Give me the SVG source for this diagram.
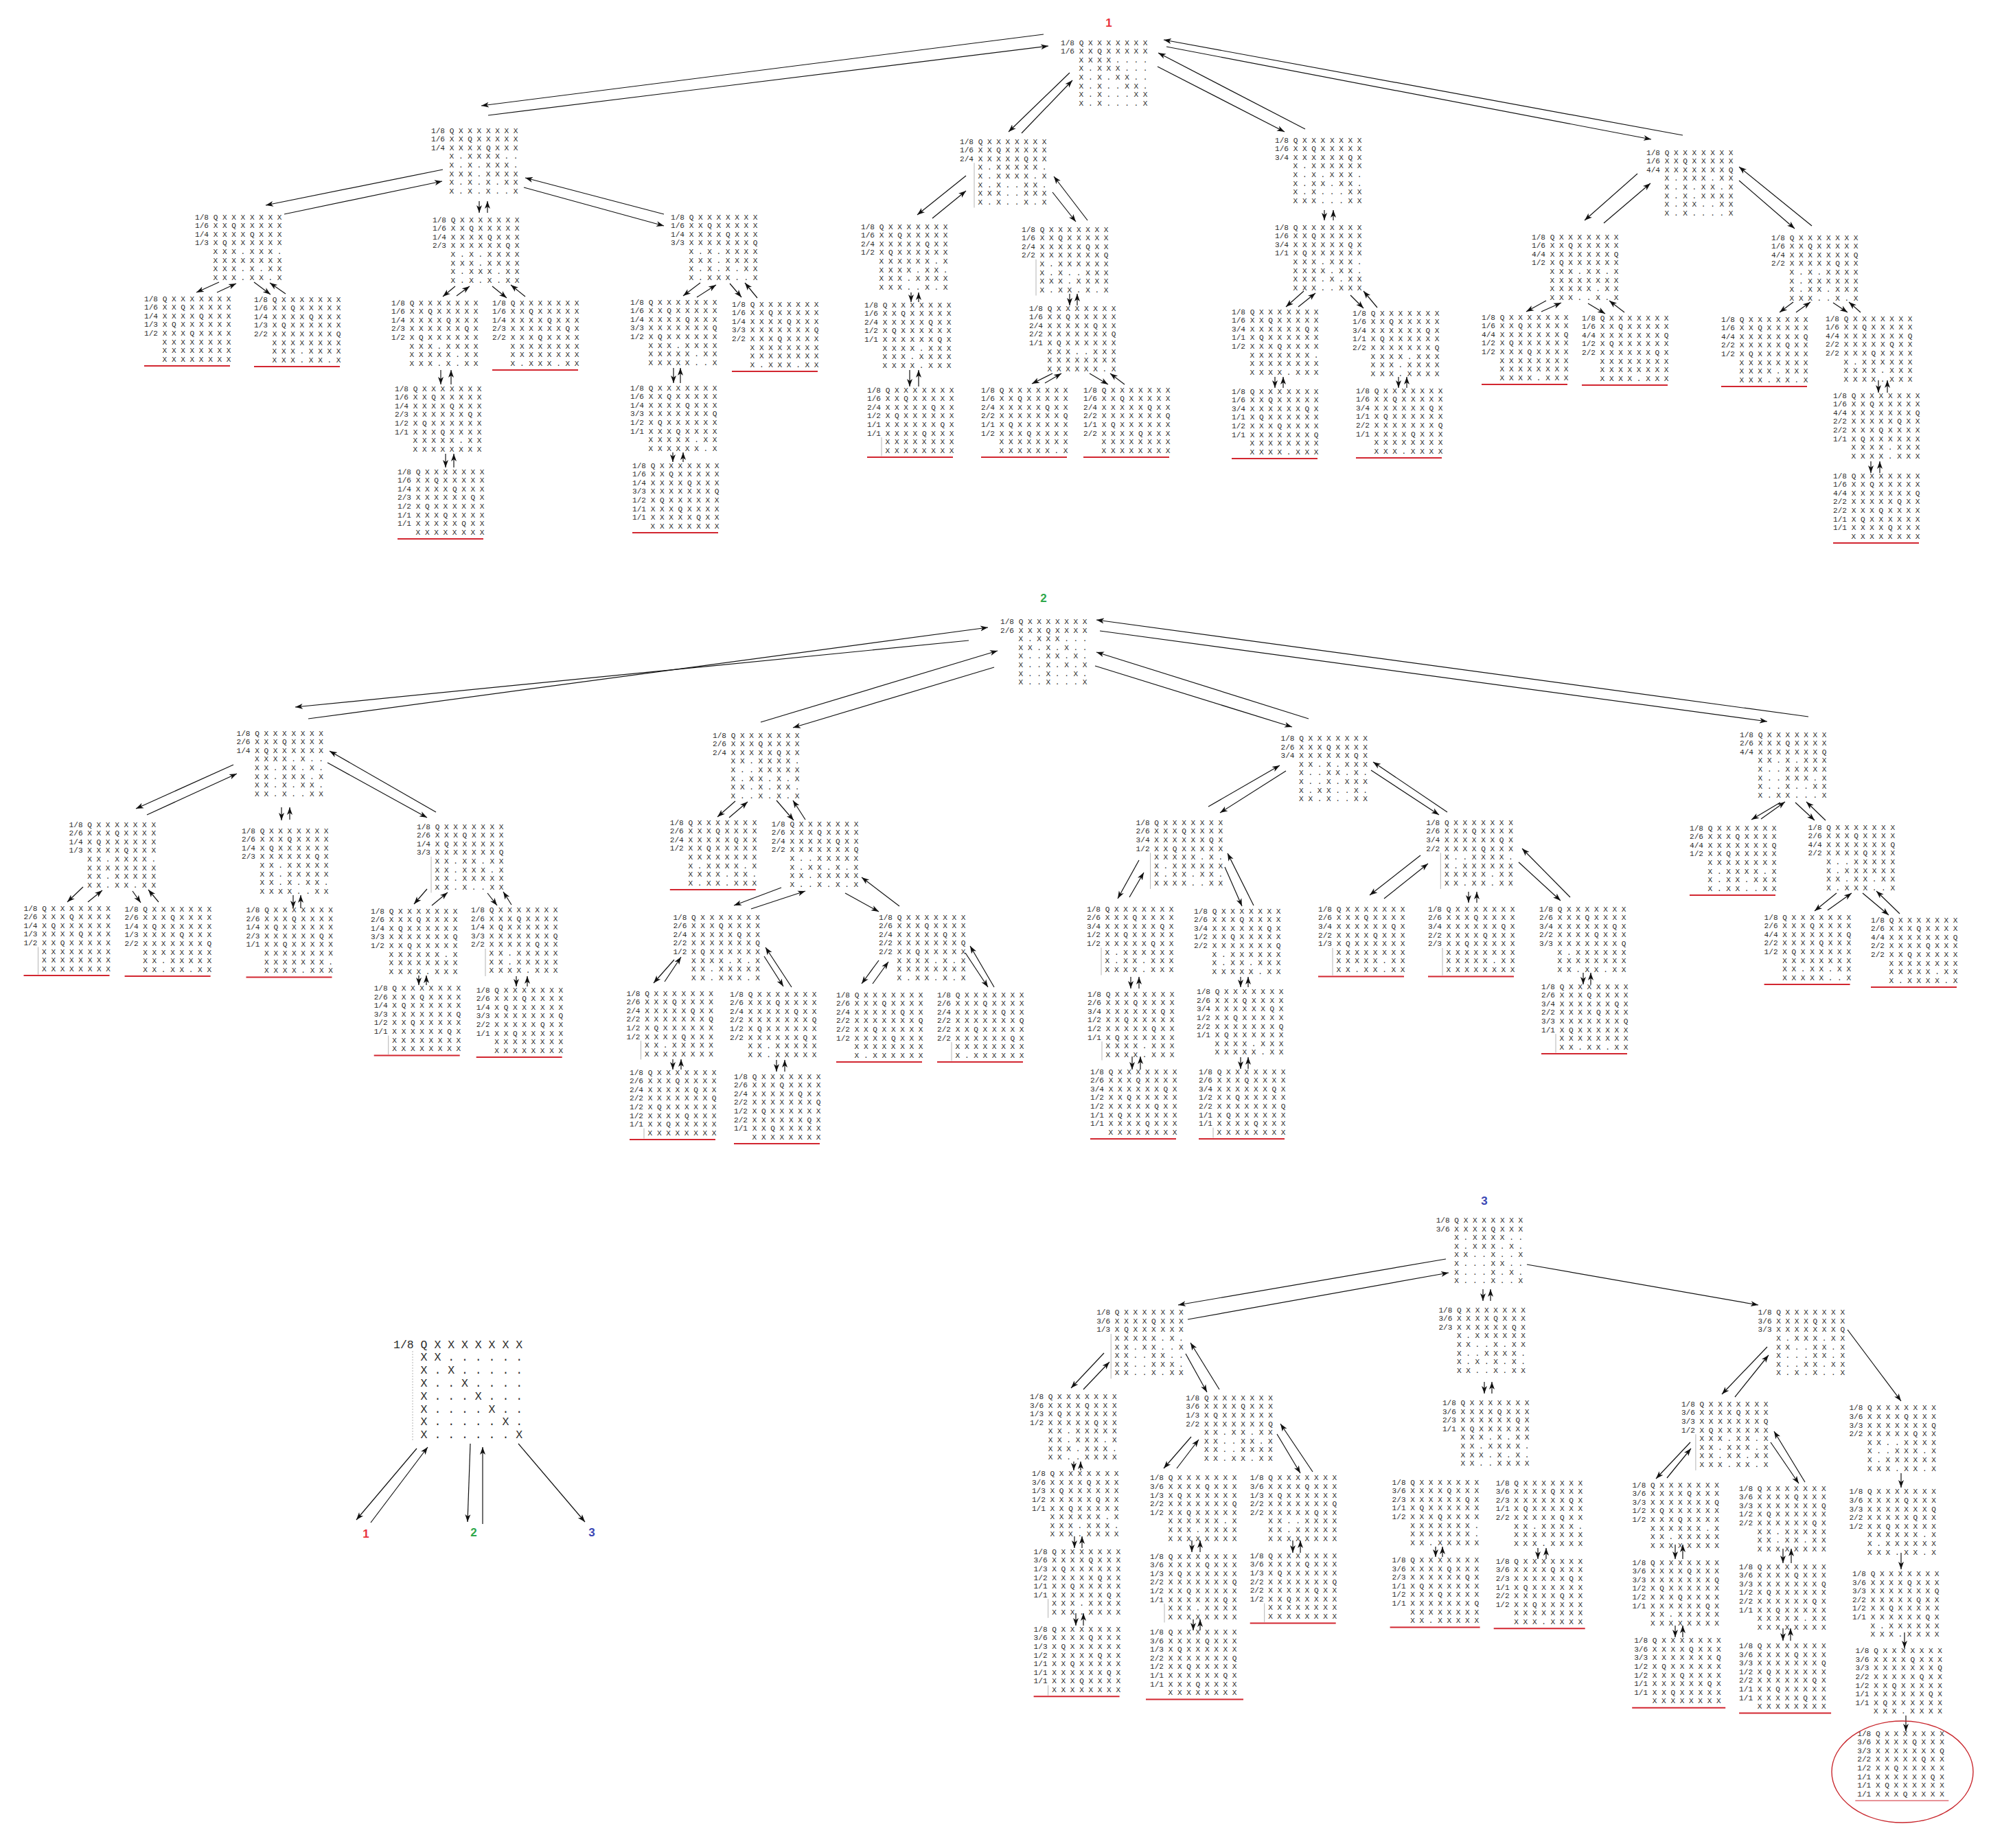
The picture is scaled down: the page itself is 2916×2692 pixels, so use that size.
<svg xmlns="http://www.w3.org/2000/svg" width="2916" height="2692" viewBox="0 0 2916 2692">
<style>
.n text{font-family:"Liberation Mono","DejaVu Sans Mono",monospace;font-size:11.1px;fill:#2b2b2b}
.n text.big{font-size:16.5px}
.u{stroke:#d22630;stroke-width:2}
.vl{stroke:#b4b4b4;stroke-width:1}
#connectors line{stroke:#111;stroke-width:1.2;marker-end:url(#ah)}
.lb{font-family:"Liberation Sans",Arial,sans-serif;font-weight:bold;font-size:17px;text-anchor:middle}
</style>
<defs>
<marker id="ah" markerWidth="12" markerHeight="10" refX="11" refY="5" orient="auto" markerUnits="userSpaceOnUse"><path d="M0,1 L11,5 L0,9 L3,5 Z" fill="#111"/></marker>
</defs>
<rect width="2916" height="2692" fill="#fff"/>
<g id="labels">
<text class="lb" x="1615" y="39" fill="#e8323c">1</text>
<text class="lb" x="1520" y="877" fill="#2ea84a">2</text>
<text class="lb" x="2162" y="1755" fill="#3a46b4">3</text>
<text class="lb" x="533" y="2240" fill="#e8323c">1</text>
<text class="lb" x="690" y="2238" fill="#2ea84a">2</text>
<text class="lb" x="862" y="2238" fill="#3a46b4">3</text>
</g>
<g id="connectors">
<line x1="1520" y1="50" x2="701" y2="154"/><line x1="711" y1="168" x2="1527" y2="67"/>
<line x1="1558" y1="106" x2="1469" y2="192"/><line x1="1488" y1="194" x2="1562" y2="117"/>
<line x1="1686" y1="97" x2="1871" y2="192"/><line x1="1901" y1="188" x2="1687" y2="77"/>
<line x1="1699" y1="68" x2="2405" y2="203"/><line x1="2451" y1="197" x2="1695" y2="58"/>
<line x1="645" y1="247" x2="387" y2="299"/><line x1="414" y1="312" x2="644" y2="264"/>
<line x1="698" y1="293" x2="698" y2="310"/><line x1="710" y1="310" x2="710" y2="293"/>
<line x1="763" y1="273" x2="967" y2="329"/><line x1="967" y1="312" x2="765" y2="259"/>
<line x1="319" y1="411" x2="286" y2="426"/><line x1="316" y1="426" x2="344" y2="413"/>
<line x1="370" y1="411" x2="394" y2="429"/><line x1="416" y1="428" x2="393" y2="412"/>
<line x1="663" y1="417" x2="645" y2="432"/><line x1="665" y1="431" x2="684" y2="417"/>
<line x1="717" y1="417" x2="738" y2="434"/><line x1="765" y1="432" x2="744" y2="415"/>
<line x1="642" y1="539" x2="642" y2="560"/><line x1="657" y1="560" x2="657" y2="539"/>
<line x1="649" y1="661" x2="649" y2="681"/><line x1="661" y1="681" x2="661" y2="661"/>
<line x1="1020" y1="412" x2="995" y2="431"/><line x1="1015" y1="433" x2="1043" y2="415"/>
<line x1="1063" y1="413" x2="1080" y2="433"/><line x1="1103" y1="434" x2="1085" y2="412"/>
<line x1="981" y1="536" x2="981" y2="558"/><line x1="991" y1="558" x2="991" y2="536"/>
<line x1="980" y1="659" x2="980" y2="673"/><line x1="995" y1="673" x2="995" y2="659"/>
<line x1="1407" y1="256" x2="1336" y2="313"/><line x1="1358" y1="318" x2="1407" y2="278"/>
<line x1="1533" y1="280" x2="1567" y2="323"/><line x1="1584" y1="321" x2="1535" y2="257"/>
<line x1="1327" y1="426" x2="1327" y2="440"/><line x1="1338" y1="440" x2="1338" y2="426"/>
<line x1="1325" y1="539" x2="1325" y2="563"/><line x1="1338" y1="563" x2="1338" y2="539"/>
<line x1="1558" y1="428" x2="1558" y2="445"/><line x1="1569" y1="445" x2="1569" y2="428"/>
<line x1="1533" y1="544" x2="1503" y2="559"/><line x1="1522" y1="558" x2="1546" y2="544"/>
<line x1="1587" y1="544" x2="1614" y2="560"/><line x1="1638" y1="560" x2="1617" y2="544"/>
<line x1="1929" y1="306" x2="1929" y2="321"/><line x1="1942" y1="321" x2="1942" y2="306"/>
<line x1="1899" y1="424" x2="1873" y2="447"/><line x1="1891" y1="447" x2="1916" y2="427"/>
<line x1="1967" y1="430" x2="1986" y2="449"/><line x1="2006" y1="448" x2="1986" y2="424"/>
<line x1="1857" y1="549" x2="1857" y2="565"/><line x1="1869" y1="565" x2="1869" y2="549"/>
<line x1="2037" y1="549" x2="2037" y2="565"/><line x1="2049" y1="565" x2="2049" y2="549"/>
<line x1="2385" y1="253" x2="2308" y2="321"/><line x1="2336" y1="325" x2="2404" y2="267"/>
<line x1="2533" y1="263" x2="2614" y2="333"/><line x1="2639" y1="329" x2="2533" y2="243"/>
<line x1="2252" y1="438" x2="2223" y2="454"/><line x1="2245" y1="454" x2="2274" y2="441"/>
<line x1="2313" y1="442" x2="2338" y2="457"/><line x1="2366" y1="455" x2="2344" y2="438"/>
<line x1="2612" y1="440" x2="2592" y2="455"/><line x1="2616" y1="455" x2="2637" y2="440"/>
<line x1="2670" y1="441" x2="2691" y2="455"/><line x1="2710" y1="455" x2="2693" y2="440"/>
<line x1="2736" y1="554" x2="2736" y2="572"/><line x1="2749" y1="572" x2="2749" y2="554"/>
<line x1="2725" y1="672" x2="2725" y2="689"/><line x1="2738" y1="689" x2="2738" y2="672"/>
<line x1="1411" y1="933" x2="430" y2="1030"/><line x1="449" y1="1047" x2="1439" y2="914"/>
<line x1="1448" y1="972" x2="1155" y2="1060"/><line x1="1108" y1="1052" x2="1453" y2="948"/>
<line x1="1595" y1="970" x2="1882" y2="1059"/><line x1="1906" y1="1047" x2="1597" y2="950"/>
<line x1="1602" y1="919" x2="2574" y2="1051"/><line x1="2634" y1="1044" x2="1597" y2="903"/>
<line x1="340" y1="1114" x2="198" y2="1178"/><line x1="214" y1="1187" x2="345" y2="1127"/>
<line x1="410" y1="1176" x2="410" y2="1195"/><line x1="422" y1="1194" x2="422" y2="1176"/>
<line x1="477" y1="1111" x2="622" y2="1191"/><line x1="635" y1="1183" x2="480" y2="1094"/>
<line x1="121" y1="1292" x2="98" y2="1314"/><line x1="128" y1="1314" x2="149" y2="1297"/>
<line x1="193" y1="1298" x2="205" y2="1315"/><line x1="231" y1="1314" x2="216" y2="1296"/>
<line x1="427" y1="1304" x2="427" y2="1323"/><line x1="438" y1="1323" x2="438" y2="1304"/>
<line x1="622" y1="1295" x2="603" y2="1317"/><line x1="629" y1="1319" x2="652" y2="1300"/>
<line x1="710" y1="1301" x2="724" y2="1319"/><line x1="745" y1="1318" x2="733" y2="1299"/>
<line x1="610" y1="1421" x2="610" y2="1435"/><line x1="621" y1="1435" x2="621" y2="1421"/>
<line x1="752" y1="1422" x2="752" y2="1437"/><line x1="768" y1="1437" x2="768" y2="1422"/>
<line x1="1071" y1="1167" x2="1045" y2="1190"/><line x1="1062" y1="1191" x2="1089" y2="1168"/>
<line x1="1131" y1="1166" x2="1156" y2="1195"/><line x1="1173" y1="1194" x2="1155" y2="1166"/>
<line x1="1138" y1="1293" x2="1069" y2="1319"/><line x1="1094" y1="1324" x2="1173" y2="1298"/>
<line x1="1231" y1="1301" x2="1280" y2="1328"/><line x1="1310" y1="1320" x2="1255" y2="1278"/>
<line x1="982" y1="1398" x2="952" y2="1432"/><line x1="968" y1="1430" x2="992" y2="1394"/>
<line x1="1113" y1="1393" x2="1141" y2="1437"/><line x1="1153" y1="1438" x2="1115" y2="1380"/>
<line x1="1280" y1="1399" x2="1255" y2="1433"/><line x1="1271" y1="1433" x2="1294" y2="1401"/>
<line x1="1406" y1="1388" x2="1439" y2="1438"/><line x1="1448" y1="1438" x2="1413" y2="1378"/>
<line x1="980" y1="1543" x2="980" y2="1558"/><line x1="992" y1="1558" x2="992" y2="1543"/>
<line x1="1131" y1="1544" x2="1131" y2="1561"/><line x1="1143" y1="1561" x2="1143" y2="1544"/>
<line x1="1873" y1="1123" x2="1777" y2="1184"/><line x1="1760" y1="1175" x2="1864" y2="1115"/>
<line x1="1997" y1="1122" x2="2096" y2="1187"/><line x1="2108" y1="1183" x2="2000" y2="1110"/>
<line x1="1659" y1="1253" x2="1628" y2="1309"/><line x1="1645" y1="1307" x2="1666" y2="1271"/>
<line x1="1784" y1="1263" x2="1809" y2="1320"/><line x1="1826" y1="1319" x2="1788" y2="1243"/>
<line x1="1647" y1="1423" x2="1647" y2="1440"/><line x1="1659" y1="1440" x2="1659" y2="1423"/>
<line x1="1807" y1="1423" x2="1807" y2="1438"/><line x1="1818" y1="1438" x2="1818" y2="1423"/>
<line x1="1649" y1="1539" x2="1649" y2="1558"/><line x1="1661" y1="1558" x2="1661" y2="1539"/>
<line x1="1807" y1="1540" x2="1807" y2="1557"/><line x1="1818" y1="1557" x2="1818" y2="1540"/>
<line x1="2069" y1="1246" x2="1995" y2="1304"/><line x1="2016" y1="1309" x2="2080" y2="1258"/>
<line x1="2139" y1="1299" x2="2139" y2="1315"/><line x1="2151" y1="1315" x2="2151" y2="1299"/>
<line x1="2212" y1="1256" x2="2273" y2="1312"/><line x1="2287" y1="1307" x2="2217" y2="1236"/>
<line x1="2306" y1="1417" x2="2306" y2="1434"/><line x1="2317" y1="1434" x2="2317" y2="1417"/>
<line x1="2593" y1="1169" x2="2551" y2="1194"/><line x1="2565" y1="1193" x2="2600" y2="1168"/>
<line x1="2615" y1="1169" x2="2643" y2="1195"/><line x1="2659" y1="1195" x2="2631" y2="1168"/>
<line x1="2675" y1="1301" x2="2643" y2="1327"/><line x1="2662" y1="1326" x2="2697" y2="1301"/>
<line x1="2713" y1="1301" x2="2751" y2="1333"/><line x1="2767" y1="1331" x2="2733" y2="1298"/>
<line x1="2106" y1="1834" x2="1716" y2="1901"/><line x1="1730" y1="1922" x2="2110" y2="1854"/>
<line x1="2160" y1="1878" x2="2160" y2="1895"/><line x1="2171" y1="1895" x2="2171" y2="1878"/>
<line x1="2224" y1="1842" x2="2561" y2="1901"/>
<line x1="1608" y1="1971" x2="1560" y2="2022"/><line x1="1578" y1="2024" x2="1616" y2="1984"/>
<line x1="1727" y1="1972" x2="1758" y2="2028"/><line x1="1776" y1="2024" x2="1734" y2="1956"/>
<line x1="1564" y1="2129" x2="1564" y2="2142"/><line x1="1574" y1="2142" x2="1574" y2="2129"/>
<line x1="1565" y1="2238" x2="1565" y2="2255"/><line x1="1576" y1="2255" x2="1576" y2="2238"/>
<line x1="1567" y1="2350" x2="1567" y2="2368"/><line x1="1578" y1="2368" x2="1578" y2="2350"/>
<line x1="1735" y1="2093" x2="1695" y2="2139"/><line x1="1714" y1="2139" x2="1746" y2="2097"/>
<line x1="1860" y1="2089" x2="1894" y2="2146"/><line x1="1912" y1="2144" x2="1865" y2="2074"/>
<line x1="1736" y1="2244" x2="1736" y2="2261"/><line x1="1748" y1="2261" x2="1748" y2="2244"/>
<line x1="1738" y1="2359" x2="1738" y2="2375"/><line x1="1748" y1="2375" x2="1748" y2="2359"/>
<line x1="1883" y1="2244" x2="1883" y2="2262"/><line x1="1894" y1="2262" x2="1894" y2="2244"/>
<line x1="2162" y1="2013" x2="2162" y2="2030"/><line x1="2173" y1="2030" x2="2173" y2="2013"/>
<line x1="2091" y1="2253" x2="2091" y2="2268"/><line x1="2101" y1="2268" x2="2101" y2="2253"/>
<line x1="2240" y1="2255" x2="2240" y2="2271"/><line x1="2252" y1="2271" x2="2252" y2="2255"/>
<line x1="2574" y1="1962" x2="2508" y2="2031"/><line x1="2527" y1="2035" x2="2576" y2="1974"/>
<line x1="2691" y1="1937" x2="2769" y2="2041"/>
<line x1="2462" y1="2101" x2="2412" y2="2154"/><line x1="2428" y1="2153" x2="2463" y2="2110"/>
<line x1="2579" y1="2101" x2="2620" y2="2161"/><line x1="2629" y1="2159" x2="2584" y2="2085"/>
<line x1="2440" y1="2250" x2="2440" y2="2271"/><line x1="2451" y1="2271" x2="2451" y2="2250"/>
<line x1="2440" y1="2368" x2="2440" y2="2385"/><line x1="2451" y1="2385" x2="2451" y2="2368"/>
<line x1="2597" y1="2256" x2="2597" y2="2277"/><line x1="2609" y1="2277" x2="2609" y2="2256"/>
<line x1="2597" y1="2372" x2="2597" y2="2390"/><line x1="2608" y1="2390" x2="2608" y2="2372"/>
<line x1="2769" y1="2146" x2="2769" y2="2167"/>
<line x1="2769" y1="2262" x2="2769" y2="2286"/>
<line x1="2774" y1="2378" x2="2774" y2="2401"/>
<line x1="2776" y1="2499" x2="2776" y2="2522"/>
<line x1="607" y1="2110" x2="519" y2="2214"/><line x1="540" y1="2218" x2="623" y2="2108"/>
<line x1="685" y1="2103" x2="681" y2="2217"/><line x1="703" y1="2220" x2="703" y2="2108"/>
<line x1="755" y1="2103" x2="852" y2="2217"/>
</g>
<g id="n0" class="n" transform="translate(573,1963.5)"><line class="vl" x1="28" y1="4.5" x2="28" y2="136.5" stroke-dasharray="2,2"/><text class="big"><tspan x="0" y="0">1/8 Q X X X X X X X</tspan><tspan x="39.6" y="18.8">X X . . . . . .</tspan><tspan x="39.6" y="37.6">X . X . . . . .</tspan><tspan x="39.6" y="56.4">X . . X . . . .</tspan><tspan x="39.6" y="75.2">X . . . X . . .</tspan><tspan x="39.6" y="94">X . . . . X . .</tspan><tspan x="39.6" y="112.8">X . . . . . X .</tspan><tspan x="39.6" y="131.6">X . . . . . . X</tspan></text></g>
<g id="t1-root" class="n" transform="translate(1545,65.5)"><text><tspan x="0" y="0">1/8 Q X X X X X X X</tspan><tspan x="0" y="12.6">1/6 X X Q X X X X X</tspan><tspan x="26.6" y="25.2">X X X X . . . .</tspan><tspan x="26.6" y="37.8">X . X X X . . .</tspan><tspan x="26.6" y="50.4">X . X . X X . .</tspan><tspan x="26.6" y="63">X . X . . X X .</tspan><tspan x="26.6" y="75.6">X . X . . . X X</tspan><tspan x="26.6" y="88.2">X . X . . . . X</tspan></text></g>
<g id="t1-A" class="n" transform="translate(628,193.5)"><text><tspan x="0" y="0">1/8 Q X X X X X X X</tspan><tspan x="0" y="12.6">1/6 X X Q X X X X X</tspan><tspan x="0" y="25.2">1/4 X X X X Q X X X</tspan><tspan x="26.6" y="37.8">X . X X X X . .</tspan><tspan x="26.6" y="50.4">X . X . X X X .</tspan><tspan x="26.6" y="63">X X X . X X X X</tspan><tspan x="26.6" y="75.6">X . X . X . X X</tspan><tspan x="26.6" y="88.2">X . X . X . . X</tspan></text></g>
<g id="t1-A1" class="n" transform="translate(284,319.5)"><text><tspan x="0" y="0">1/8 Q X X X X X X X</tspan><tspan x="0" y="12.6">1/6 X X Q X X X X X</tspan><tspan x="0" y="25.2">1/4 X X X X Q X X X</tspan><tspan x="0" y="37.8">1/3 X Q X X X X X X</tspan><tspan x="26.6" y="50.4">X X X . X X X .</tspan><tspan x="26.6" y="63">X X X X X X X X</tspan><tspan x="26.6" y="75.6">X X X . X . X X</tspan><tspan x="26.6" y="88.2">X X X . X X . X</tspan></text></g>
<g id="t1-A1a" class="n" transform="translate(210,438.5)"><text><tspan x="0" y="0">1/8 Q X X X X X X X</tspan><tspan x="0" y="12.6">1/6 X X Q X X X X X</tspan><tspan x="0" y="25.2">1/4 X X X X Q X X X</tspan><tspan x="0" y="37.8">1/3 X Q X X X X X X</tspan><tspan x="0" y="50.4">1/2 X X X Q X X X X</tspan><tspan x="26.6" y="63">X X X X X X X X</tspan><tspan x="26.6" y="75.6">X X X X X X X X</tspan><tspan x="26.6" y="88.2">X X X X X X X X</tspan></text><line class="u" x1="0" y1="94.5" x2="125" y2="94.5"/></g>
<g id="t1-A1b" class="n" transform="translate(370,439.5)"><text><tspan x="0" y="0">1/8 Q X X X X X X X</tspan><tspan x="0" y="12.6">1/6 X X Q X X X X X</tspan><tspan x="0" y="25.2">1/4 X X X X Q X X X</tspan><tspan x="0" y="37.8">1/3 X Q X X X X X X</tspan><tspan x="0" y="50.4">2/2 X X X X X X X Q</tspan><tspan x="26.6" y="63">X X X X X X X X</tspan><tspan x="26.6" y="75.6">X X X . X X X X</tspan><tspan x="26.6" y="88.2">X X X . X X . X</tspan></text><line class="u" x1="0" y1="94.5" x2="125" y2="94.5"/></g>
<g id="t1-A2" class="n" transform="translate(630,323.5)"><text><tspan x="0" y="0">1/8 Q X X X X X X X</tspan><tspan x="0" y="12.6">1/6 X X Q X X X X X</tspan><tspan x="0" y="25.2">1/4 X X X X Q X X X</tspan><tspan x="0" y="37.8">2/3 X X X X X X Q X</tspan><tspan x="26.6" y="50.4">X . X . X X X X</tspan><tspan x="26.6" y="63">X X X . X X X X</tspan><tspan x="26.6" y="75.6">X . X X X . X X</tspan><tspan x="26.6" y="88.2">X . X . X . X X</tspan></text></g>
<g id="t1-A2a" class="n" transform="translate(570,444.5)"><text><tspan x="0" y="0">1/8 Q X X X X X X X</tspan><tspan x="0" y="12.6">1/6 X X Q X X X X X</tspan><tspan x="0" y="25.2">1/4 X X X X Q X X X</tspan><tspan x="0" y="37.8">2/3 X X X X X X Q X</tspan><tspan x="0" y="50.4">1/2 X Q X X X X X X</tspan><tspan x="26.6" y="63">X X X . X X X X</tspan><tspan x="26.6" y="75.6">X X X X X . X X</tspan><tspan x="26.6" y="88.2">X X X . X . X X</tspan></text></g>
<g id="t1-A2a1" class="n" transform="translate(575,569.5)"><text><tspan x="0" y="0">1/8 Q X X X X X X X</tspan><tspan x="0" y="12.6">1/6 X X Q X X X X X</tspan><tspan x="0" y="25.2">1/4 X X X X Q X X X</tspan><tspan x="0" y="37.8">2/3 X X X X X X Q X</tspan><tspan x="0" y="50.4">1/2 X Q X X X X X X</tspan><tspan x="0" y="63">1/1 X X X Q X X X X</tspan><tspan x="26.6" y="75.6">X X X X X . X X</tspan><tspan x="26.6" y="88.2">X X X X X X X X</tspan></text></g>
<g id="t1-A2a1a" class="n" transform="translate(579,690.5)"><text><tspan x="0" y="0">1/8 Q X X X X X X X</tspan><tspan x="0" y="12.6">1/6 X X Q X X X X X</tspan><tspan x="0" y="25.2">1/4 X X X X Q X X X</tspan><tspan x="0" y="37.8">2/3 X X X X X X Q X</tspan><tspan x="0" y="50.4">1/2 X Q X X X X X X</tspan><tspan x="0" y="63">1/1 X X X Q X X X X</tspan><tspan x="0" y="75.6">1/1 X X X X X Q X X</tspan><tspan x="26.6" y="88.2">X X X X X X X X</tspan></text><line class="u" x1="0" y1="94.5" x2="125" y2="94.5"/></g>
<g id="t1-A2b" class="n" transform="translate(717,444.5)"><text><tspan x="0" y="0">1/8 Q X X X X X X X</tspan><tspan x="0" y="12.6">1/6 X X Q X X X X X</tspan><tspan x="0" y="25.2">1/4 X X X X Q X X X</tspan><tspan x="0" y="37.8">2/3 X X X X X X Q X</tspan><tspan x="0" y="50.4">2/2 X X X Q X X X X</tspan><tspan x="26.6" y="63">X X X X X X X X</tspan><tspan x="26.6" y="75.6">X X X X X X X X</tspan><tspan x="26.6" y="88.2">X . X X X . X X</tspan></text><line class="u" x1="0" y1="94.5" x2="125" y2="94.5"/></g>
<g id="t1-A3" class="n" transform="translate(977,319.5)"><text><tspan x="0" y="0">1/8 Q X X X X X X X</tspan><tspan x="0" y="12.6">1/6 X X Q X X X X X</tspan><tspan x="0" y="25.2">1/4 X X X X Q X X X</tspan><tspan x="0" y="37.8">3/3 X X X X X X X Q</tspan><tspan x="26.6" y="50.4">X . X . X X X X</tspan><tspan x="26.6" y="63">X X X . X X X X</tspan><tspan x="26.6" y="75.6">X . X . X . X X</tspan><tspan x="26.6" y="88.2">X . X X X . . X</tspan></text></g>
<g id="t1-A3a" class="n" transform="translate(918,443.5)"><text><tspan x="0" y="0">1/8 Q X X X X X X X</tspan><tspan x="0" y="12.6">1/6 X X Q X X X X X</tspan><tspan x="0" y="25.2">1/4 X X X X Q X X X</tspan><tspan x="0" y="37.8">3/3 X X X X X X X Q</tspan><tspan x="0" y="50.4">1/2 X Q X X X X X X</tspan><tspan x="26.6" y="63">X X X . X X X X</tspan><tspan x="26.6" y="75.6">X X X X X . X X</tspan><tspan x="26.6" y="88.2">X X X X X . . X</tspan></text></g>
<g id="t1-A3a1" class="n" transform="translate(918,568.5)"><text><tspan x="0" y="0">1/8 Q X X X X X X X</tspan><tspan x="0" y="12.6">1/6 X X Q X X X X X</tspan><tspan x="0" y="25.2">1/4 X X X X Q X X X</tspan><tspan x="0" y="37.8">3/3 X X X X X X X Q</tspan><tspan x="0" y="50.4">1/2 X Q X X X X X X</tspan><tspan x="0" y="63">1/1 X X X Q X X X X</tspan><tspan x="26.6" y="75.6">X X X X X . X X</tspan><tspan x="26.6" y="88.2">X X X X X X . X</tspan></text></g>
<g id="t1-A3a1a" class="n" transform="translate(921,681.5)"><text><tspan x="0" y="0">1/8 Q X X X X X X X</tspan><tspan x="0" y="12.6">1/6 X X Q X X X X X</tspan><tspan x="0" y="25.2">1/4 X X X X Q X X X</tspan><tspan x="0" y="37.8">3/3 X X X X X X X Q</tspan><tspan x="0" y="50.4">1/2 X Q X X X X X X</tspan><tspan x="0" y="63">1/1 X X X Q X X X X</tspan><tspan x="0" y="75.6">1/1 X X X X X Q X X</tspan><tspan x="26.6" y="88.2">X X X X X X X X</tspan></text><line class="u" x1="0" y1="94.5" x2="125" y2="94.5"/></g>
<g id="t1-A3b" class="n" transform="translate(1066,446.5)"><text><tspan x="0" y="0">1/8 Q X X X X X X X</tspan><tspan x="0" y="12.6">1/6 X X Q X X X X X</tspan><tspan x="0" y="25.2">1/4 X X X X Q X X X</tspan><tspan x="0" y="37.8">3/3 X X X X X X X Q</tspan><tspan x="0" y="50.4">2/2 X X X Q X X X X</tspan><tspan x="26.6" y="63">X X X X X X X X</tspan><tspan x="26.6" y="75.6">X X X X X X X X</tspan><tspan x="26.6" y="88.2">X . X X X . X X</tspan></text><line class="u" x1="0" y1="94.5" x2="125" y2="94.5"/></g>
<g id="t1-B" class="n" transform="translate(1398,209.5)"><line class="vl" x1="21" y1="27.8" x2="21" y2="93"/><text><tspan x="0" y="0">1/8 Q X X X X X X X</tspan><tspan x="0" y="12.6">1/6 X X Q X X X X X</tspan><tspan x="0" y="25.2">2/4 X X X X X Q X X</tspan><tspan x="26.6" y="37.8">X . X X X X X .</tspan><tspan x="26.6" y="50.4">X . X X X X . X</tspan><tspan x="26.6" y="63">X . X . . X X .</tspan><tspan x="26.6" y="75.6">X X X . . X X X</tspan><tspan x="26.6" y="88.2">X . X . . X . X</tspan></text></g>
<g id="t1-B1" class="n" transform="translate(1254,333.5)"><text><tspan x="0" y="0">1/8 Q X X X X X X X</tspan><tspan x="0" y="12.6">1/6 X X Q X X X X X</tspan><tspan x="0" y="25.2">2/4 X X X X X Q X X</tspan><tspan x="0" y="37.8">1/2 X Q X X X X X X</tspan><tspan x="26.6" y="50.4">X X X X X X . X</tspan><tspan x="26.6" y="63">X X X X . X X .</tspan><tspan x="26.6" y="75.6">X X X . X X X X</tspan><tspan x="26.6" y="88.2">X X X . . X . X</tspan></text></g>
<g id="t1-B1a" class="n" transform="translate(1259,447.5)"><text><tspan x="0" y="0">1/8 Q X X X X X X X</tspan><tspan x="0" y="12.6">1/6 X X Q X X X X X</tspan><tspan x="0" y="25.2">2/4 X X X X X Q X X</tspan><tspan x="0" y="37.8">1/2 X Q X X X X X X</tspan><tspan x="0" y="50.4">1/1 X X X X X X Q X</tspan><tspan x="26.6" y="63">X X X X . X X X</tspan><tspan x="26.6" y="75.6">X X X . X X X X</tspan><tspan x="26.6" y="88.2">X X X X . X X X</tspan></text></g>
<g id="t1-B1a1" class="n" transform="translate(1263,571.5)"><line class="vl" x1="21" y1="65.6" x2="21" y2="93"/><text><tspan x="0" y="0">1/8 Q X X X X X X X</tspan><tspan x="0" y="12.6">1/6 X X Q X X X X X</tspan><tspan x="0" y="25.2">2/4 X X X X X Q X X</tspan><tspan x="0" y="37.8">1/2 X Q X X X X X X</tspan><tspan x="0" y="50.4">1/1 X X X X X X Q X</tspan><tspan x="0" y="63">1/1 X X X X Q X X X</tspan><tspan x="26.6" y="75.6">X X X X X X X X</tspan><tspan x="26.6" y="88.2">X X X X X X X X</tspan></text><line class="u" x1="0" y1="94.5" x2="125" y2="94.5"/></g>
<g id="t1-B2" class="n" transform="translate(1488,337.5)"><line class="vl" x1="21" y1="40.4" x2="21" y2="93"/><text><tspan x="0" y="0">1/8 Q X X X X X X X</tspan><tspan x="0" y="12.6">1/6 X X Q X X X X X</tspan><tspan x="0" y="25.2">2/4 X X X X X Q X X</tspan><tspan x="0" y="37.8">2/2 X X X X X X X Q</tspan><tspan x="26.6" y="50.4">X . X X X X X X</tspan><tspan x="26.6" y="63">X . X . . X X X</tspan><tspan x="26.6" y="75.6">X X X . X X X X</tspan><tspan x="26.6" y="88.2">X . X X . X . X</tspan></text></g>
<g id="t1-B2a" class="n" transform="translate(1499,452.5)"><text><tspan x="0" y="0">1/8 Q X X X X X X X</tspan><tspan x="0" y="12.6">1/6 X X Q X X X X X</tspan><tspan x="0" y="25.2">2/4 X X X X X Q X X</tspan><tspan x="0" y="37.8">2/2 X X X X X X X Q</tspan><tspan x="0" y="50.4">1/1 X Q X X X X X X</tspan><tspan x="26.6" y="63">X X X . . X X X</tspan><tspan x="26.6" y="75.6">X X X X X X X X</tspan><tspan x="26.6" y="88.2">X X X X X X . X</tspan></text></g>
<g id="t1-B2a1" class="n" transform="translate(1429,571.5)"><text><tspan x="0" y="0">1/8 Q X X X X X X X</tspan><tspan x="0" y="12.6">1/6 X X Q X X X X X</tspan><tspan x="0" y="25.2">2/4 X X X X X Q X X</tspan><tspan x="0" y="37.8">2/2 X X X X X X X Q</tspan><tspan x="0" y="50.4">1/1 X Q X X X X X X</tspan><tspan x="0" y="63">1/2 X X X Q X X X X</tspan><tspan x="26.6" y="75.6">X X X X X X X X</tspan><tspan x="26.6" y="88.2">X X X X X X . X</tspan></text><line class="u" x1="0" y1="94.5" x2="125" y2="94.5"/></g>
<g id="t1-B2a2" class="n" transform="translate(1578,571.5)"><text><tspan x="0" y="0">1/8 Q X X X X X X X</tspan><tspan x="0" y="12.6">1/6 X X Q X X X X X</tspan><tspan x="0" y="25.2">2/4 X X X X X Q X X</tspan><tspan x="0" y="37.8">2/2 X X X X X X X Q</tspan><tspan x="0" y="50.4">1/1 X Q X X X X X X</tspan><tspan x="0" y="63">2/2 X X X X Q X X X</tspan><tspan x="26.6" y="75.6">X X X X X X X X</tspan><tspan x="26.6" y="88.2">X X X X X X X X</tspan></text><line class="u" x1="0" y1="94.5" x2="125" y2="94.5"/></g>
<g id="t1-C" class="n" transform="translate(1857,207.5)"><text><tspan x="0" y="0">1/8 Q X X X X X X X</tspan><tspan x="0" y="12.6">1/6 X X Q X X X X X</tspan><tspan x="0" y="25.2">3/4 X X X X X X Q X</tspan><tspan x="26.6" y="37.8">X . X X X X X X</tspan><tspan x="26.6" y="50.4">X . X . X X X .</tspan><tspan x="26.6" y="63">X . X X . X X .</tspan><tspan x="26.6" y="75.6">X . X . . . X X</tspan><tspan x="26.6" y="88.2">X X X . . . X X</tspan></text></g>
<g id="t1-C1" class="n" transform="translate(1857,334.5)"><text><tspan x="0" y="0">1/8 Q X X X X X X X</tspan><tspan x="0" y="12.6">1/6 X X Q X X X X X</tspan><tspan x="0" y="25.2">3/4 X X X X X X Q X</tspan><tspan x="0" y="37.8">1/1 X Q X X X X X X</tspan><tspan x="26.6" y="50.4">X X X . X X X .</tspan><tspan x="26.6" y="63">X X X X . X X .</tspan><tspan x="26.6" y="75.6">X X X . X . X X</tspan><tspan x="26.6" y="88.2">X X X . . X X X</tspan></text></g>
<g id="t1-C1a" class="n" transform="translate(1794,457.5)"><text><tspan x="0" y="0">1/8 Q X X X X X X X</tspan><tspan x="0" y="12.6">1/6 X X Q X X X X X</tspan><tspan x="0" y="25.2">3/4 X X X X X X Q X</tspan><tspan x="0" y="37.8">1/1 X Q X X X X X X</tspan><tspan x="0" y="50.4">1/2 X X X Q X X X X</tspan><tspan x="26.6" y="63">X X X X X X X .</tspan><tspan x="26.6" y="75.6">X X X X X X X X</tspan><tspan x="26.6" y="88.2">X X X X . X X X</tspan></text></g>
<g id="t1-C1a1" class="n" transform="translate(1794,573.5)"><text><tspan x="0" y="0">1/8 Q X X X X X X X</tspan><tspan x="0" y="12.6">1/6 X X Q X X X X X</tspan><tspan x="0" y="25.2">3/4 X X X X X X Q X</tspan><tspan x="0" y="37.8">1/1 X Q X X X X X X</tspan><tspan x="0" y="50.4">1/2 X X X Q X X X X</tspan><tspan x="0" y="63">1/1 X X X X X X X Q</tspan><tspan x="26.6" y="75.6">X X X X X X X X</tspan><tspan x="26.6" y="88.2">X X X X . X X X</tspan></text><line class="u" x1="0" y1="94.5" x2="125" y2="94.5"/></g>
<g id="t1-C1b" class="n" transform="translate(1970,459.5)"><text><tspan x="0" y="0">1/8 Q X X X X X X X</tspan><tspan x="0" y="12.6">1/6 X X Q X X X X X</tspan><tspan x="0" y="25.2">3/4 X X X X X X Q X</tspan><tspan x="0" y="37.8">1/1 X Q X X X X X X</tspan><tspan x="0" y="50.4">2/2 X X X X X X X Q</tspan><tspan x="26.6" y="63">X X X X . X X X</tspan><tspan x="26.6" y="75.6">X X X . X X X X</tspan><tspan x="26.6" y="88.2">X X X . X X X X</tspan></text></g>
<g id="t1-C1b1" class="n" transform="translate(1975,572.5)"><text><tspan x="0" y="0">1/8 Q X X X X X X X</tspan><tspan x="0" y="12.6">1/6 X X Q X X X X X</tspan><tspan x="0" y="25.2">3/4 X X X X X X Q X</tspan><tspan x="0" y="37.8">1/1 X Q X X X X X X</tspan><tspan x="0" y="50.4">2/2 X X X X X X X Q</tspan><tspan x="0" y="63">1/1 X X X X Q X X X</tspan><tspan x="26.6" y="75.6">X X X X X X X X</tspan><tspan x="26.6" y="88.2">X X X . X X X X</tspan></text><line class="u" x1="0" y1="94.5" x2="125" y2="94.5"/></g>
<g id="t1-D" class="n" transform="translate(2398,225.5)"><text><tspan x="0" y="0">1/8 Q X X X X X X X</tspan><tspan x="0" y="12.6">1/6 X X Q X X X X X</tspan><tspan x="0" y="25.2">4/4 X X X X X X X Q</tspan><tspan x="26.6" y="37.8">X . X X X . X X</tspan><tspan x="26.6" y="50.4">X . X . X X . X</tspan><tspan x="26.6" y="63">X . X . X X X X</tspan><tspan x="26.6" y="75.6">X . X X . . X X</tspan><tspan x="26.6" y="88.2">X . X . . . . X</tspan></text></g>
<g id="t1-D1" class="n" transform="translate(2231,348.5)"><text><tspan x="0" y="0">1/8 Q X X X X X X X</tspan><tspan x="0" y="12.6">1/6 X X Q X X X X X</tspan><tspan x="0" y="25.2">4/4 X X X X X X X Q</tspan><tspan x="0" y="37.8">1/2 X Q X X X X X X</tspan><tspan x="26.6" y="50.4">X X X . X X . X</tspan><tspan x="26.6" y="63">X X X X X X X X</tspan><tspan x="26.6" y="75.6">X X X X X . X X</tspan><tspan x="26.6" y="88.2">X X X . . X . X</tspan></text></g>
<g id="t1-D1a" class="n" transform="translate(2158,465.5)"><text><tspan x="0" y="0">1/8 Q X X X X X X X</tspan><tspan x="0" y="12.6">1/6 X X Q X X X X X</tspan><tspan x="0" y="25.2">4/4 X X X X X X X Q</tspan><tspan x="0" y="37.8">1/2 X Q X X X X X X</tspan><tspan x="0" y="50.4">1/2 X X X Q X X X X</tspan><tspan x="26.6" y="63">X X X X X X X X</tspan><tspan x="26.6" y="75.6">X X X X X X X X</tspan><tspan x="26.6" y="88.2">X X X X . X X X</tspan></text><line class="u" x1="0" y1="94.5" x2="125" y2="94.5"/></g>
<g id="t1-D1b" class="n" transform="translate(2304,466.5)"><text><tspan x="0" y="0">1/8 Q X X X X X X X</tspan><tspan x="0" y="12.6">1/6 X X Q X X X X X</tspan><tspan x="0" y="25.2">4/4 X X X X X X X Q</tspan><tspan x="0" y="37.8">1/2 X Q X X X X X X</tspan><tspan x="0" y="50.4">2/2 X X X X X X Q X</tspan><tspan x="26.6" y="63">X X X X X X X X</tspan><tspan x="26.6" y="75.6">X X X X X X X X</tspan><tspan x="26.6" y="88.2">X X X X . X X X</tspan></text><line class="u" x1="0" y1="94.5" x2="125" y2="94.5"/></g>
<g id="t1-D2" class="n" transform="translate(2580,349.5)"><text><tspan x="0" y="0">1/8 Q X X X X X X X</tspan><tspan x="0" y="12.6">1/6 X X Q X X X X X</tspan><tspan x="0" y="25.2">4/4 X X X X X X X Q</tspan><tspan x="0" y="37.8">2/2 X X X X X Q X X</tspan><tspan x="26.6" y="50.4">X . X . X X X X</tspan><tspan x="26.6" y="63">X . X X X X X X</tspan><tspan x="26.6" y="75.6">X . X X . X X X</tspan><tspan x="26.6" y="88.2">X X X . . X . X</tspan></text></g>
<g id="t1-D2a" class="n" transform="translate(2507,468.5)"><text><tspan x="0" y="0">1/8 Q X X X X X X X</tspan><tspan x="0" y="12.6">1/6 X X Q X X X X X</tspan><tspan x="0" y="25.2">4/4 X X X X X X X Q</tspan><tspan x="0" y="37.8">2/2 X X X X X Q X X</tspan><tspan x="0" y="50.4">1/2 X Q X X X X X X</tspan><tspan x="26.6" y="63">X X X X X X X X</tspan><tspan x="26.6" y="75.6">X X X X . X X X</tspan><tspan x="26.6" y="88.2">X X X . X X . X</tspan></text><line class="u" x1="0" y1="94.5" x2="125" y2="94.5"/></g>
<g id="t1-D2b" class="n" transform="translate(2659,467.5)"><text><tspan x="0" y="0">1/8 Q X X X X X X X</tspan><tspan x="0" y="12.6">1/6 X X Q X X X X X</tspan><tspan x="0" y="25.2">4/4 X X X X X X X Q</tspan><tspan x="0" y="37.8">2/2 X X X X X Q X X</tspan><tspan x="0" y="50.4">2/2 X X X Q X X X X</tspan><tspan x="26.6" y="63">X . X X X X X X</tspan><tspan x="26.6" y="75.6">X X X X . X X X</tspan><tspan x="26.6" y="88.2">X X X X . X X X</tspan></text></g>
<g id="t1-D2b1" class="n" transform="translate(2670,579.5)"><text><tspan x="0" y="0">1/8 Q X X X X X X X</tspan><tspan x="0" y="12.6">1/6 X X Q X X X X X</tspan><tspan x="0" y="25.2">4/4 X X X X X X X Q</tspan><tspan x="0" y="37.8">2/2 X X X X X Q X X</tspan><tspan x="0" y="50.4">2/2 X X X Q X X X X</tspan><tspan x="0" y="63">1/1 X Q X X X X X X</tspan><tspan x="26.6" y="75.6">X X X X . X X X</tspan><tspan x="26.6" y="88.2">X X X X . X X X</tspan></text></g>
<g id="t1-D2b1a" class="n" transform="translate(2670,696.5)"><text><tspan x="0" y="0">1/8 Q X X X X X X X</tspan><tspan x="0" y="12.6">1/6 X X Q X X X X X</tspan><tspan x="0" y="25.2">4/4 X X X X X X X Q</tspan><tspan x="0" y="37.8">2/2 X X X X X Q X X</tspan><tspan x="0" y="50.4">2/2 X X X Q X X X X</tspan><tspan x="0" y="63">1/1 X Q X X X X X X</tspan><tspan x="0" y="75.6">1/1 X X X X Q X X X</tspan><tspan x="26.6" y="88.2">X X X X X X X X</tspan></text><line class="u" x1="0" y1="94.5" x2="125" y2="94.5"/></g>
<g id="t2-root" class="n" transform="translate(1457,909)"><text><tspan x="0" y="0">1/8 Q X X X X X X X</tspan><tspan x="0" y="12.6">2/6 X X X Q X X X X</tspan><tspan x="26.6" y="25.2">X . X X X . . .</tspan><tspan x="26.6" y="37.8">X X . X . X . .</tspan><tspan x="26.6" y="50.4">X . . X X . X .</tspan><tspan x="26.6" y="63">X . . X . X . X</tspan><tspan x="26.6" y="75.6">X . . X . . X .</tspan><tspan x="26.6" y="88.2">X . . X . . . X</tspan></text></g>
<g id="t2-E" class="n" transform="translate(344.5,1071.5)"><text><tspan x="0" y="0">1/8 Q X X X X X X X</tspan><tspan x="0" y="12.6">2/6 X X X Q X X X X</tspan><tspan x="0" y="25.2">1/4 X Q X X X X X X</tspan><tspan x="26.6" y="37.8">X X X X . X . .</tspan><tspan x="26.6" y="50.4">X X . X X . X .</tspan><tspan x="26.6" y="63">X X . X X X . X</tspan><tspan x="26.6" y="75.6">X X . X . X X .</tspan><tspan x="26.6" y="88.2">X X . X . . X X</tspan></text></g>
<g id="t2-E1" class="n" transform="translate(100.6,1204.5)"><text><tspan x="0" y="0">1/8 Q X X X X X X X</tspan><tspan x="0" y="12.6">2/6 X X X Q X X X X</tspan><tspan x="0" y="25.2">1/4 X Q X X X X X X</tspan><tspan x="0" y="37.8">1/3 X X X X Q X X X</tspan><tspan x="26.6" y="50.4">X X . X X X X .</tspan><tspan x="26.6" y="63">X X X X X X X X</tspan><tspan x="26.6" y="75.6">X X . X X X X X</tspan><tspan x="26.6" y="88.2">X X . X X . X X</tspan></text></g>
<g id="t2-E1a" class="n" transform="translate(34.5,1326.5)"><line class="vl" x1="21" y1="53" x2="21" y2="93"/><text><tspan x="0" y="0">1/8 Q X X X X X X X</tspan><tspan x="0" y="12.6">2/6 X X X Q X X X X</tspan><tspan x="0" y="25.2">1/4 X Q X X X X X X</tspan><tspan x="0" y="37.8">1/3 X X X X Q X X X</tspan><tspan x="0" y="50.4">1/2 X X Q X X X X X</tspan><tspan x="26.6" y="63">X X X X X X X X</tspan><tspan x="26.6" y="75.6">X X X X X X X X</tspan><tspan x="26.6" y="88.2">X X X X X X X X</tspan></text><line class="u" x1="0" y1="94.5" x2="125" y2="94.5"/></g>
<g id="t2-E1b" class="n" transform="translate(181.6,1327.5)"><text><tspan x="0" y="0">1/8 Q X X X X X X X</tspan><tspan x="0" y="12.6">2/6 X X X Q X X X X</tspan><tspan x="0" y="25.2">1/4 X Q X X X X X X</tspan><tspan x="0" y="37.8">1/3 X X X X Q X X X</tspan><tspan x="0" y="50.4">2/2 X X X X X X X Q</tspan><tspan x="26.6" y="63">X X X X X X X X</tspan><tspan x="26.6" y="75.6">X X . X X X X X</tspan><tspan x="26.6" y="88.2">X X . X X . X X</tspan></text><line class="u" x1="0" y1="94.5" x2="125" y2="94.5"/></g>
<g id="t2-E2" class="n" transform="translate(352,1213.5)"><text><tspan x="0" y="0">1/8 Q X X X X X X X</tspan><tspan x="0" y="12.6">2/6 X X X Q X X X X</tspan><tspan x="0" y="25.2">1/4 X Q X X X X X X</tspan><tspan x="0" y="37.8">2/3 X X X X X X Q X</tspan><tspan x="26.6" y="50.4">X X . X X X X X</tspan><tspan x="26.6" y="63">X X . X X X X X</tspan><tspan x="26.6" y="75.6">X X . X . X X .</tspan><tspan x="26.6" y="88.2">X X X X . . X X</tspan></text></g>
<g id="t2-E2a" class="n" transform="translate(358.5,1329)"><text><tspan x="0" y="0">1/8 Q X X X X X X X</tspan><tspan x="0" y="12.6">2/6 X X X Q X X X X</tspan><tspan x="0" y="25.2">1/4 X Q X X X X X X</tspan><tspan x="0" y="37.8">2/3 X X X X X X Q X</tspan><tspan x="0" y="50.4">1/1 X X Q X X X X X</tspan><tspan x="26.6" y="63">X X X X X X X X</tspan><tspan x="26.6" y="75.6">X X X X X X X .</tspan><tspan x="26.6" y="88.2">X X X X . X X X</tspan></text><line class="u" x1="0" y1="94.5" x2="125" y2="94.5"/></g>
<g id="t2-E3" class="n" transform="translate(607,1207.5)"><line class="vl" x1="21" y1="40.4" x2="21" y2="93"/><text><tspan x="0" y="0">1/8 Q X X X X X X X</tspan><tspan x="0" y="12.6">2/6 X X X Q X X X X</tspan><tspan x="0" y="25.2">1/4 X Q X X X X X X</tspan><tspan x="0" y="37.8">3/3 X X X X X X X Q</tspan><tspan x="26.6" y="50.4">X X . X X . X X</tspan><tspan x="26.6" y="63">X X . X X X . X</tspan><tspan x="26.6" y="75.6">X X . X X X X X</tspan><tspan x="26.6" y="88.2">X X . X . . X X</tspan></text></g>
<g id="t2-E3a" class="n" transform="translate(540,1330.5)"><text><tspan x="0" y="0">1/8 Q X X X X X X X</tspan><tspan x="0" y="12.6">2/6 X X X Q X X X X</tspan><tspan x="0" y="25.2">1/4 X Q X X X X X X</tspan><tspan x="0" y="37.8">3/3 X X X X X X X Q</tspan><tspan x="0" y="50.4">1/2 X X Q X X X X X</tspan><tspan x="26.6" y="63">X X X X X X . X</tspan><tspan x="26.6" y="75.6">X X X X X X X X</tspan><tspan x="26.6" y="88.2">X X X X . X X X</tspan></text></g>
<g id="t2-E3a1" class="n" transform="translate(544.7,1443)"><line class="vl" x1="21" y1="65.6" x2="21" y2="93"/><text><tspan x="0" y="0">1/8 Q X X X X X X X</tspan><tspan x="0" y="12.6">2/6 X X X Q X X X X</tspan><tspan x="0" y="25.2">1/4 X Q X X X X X X</tspan><tspan x="0" y="37.8">3/3 X X X X X X X Q</tspan><tspan x="0" y="50.4">1/2 X X Q X X X X X</tspan><tspan x="0" y="63">1/1 X X X X X X Q X</tspan><tspan x="26.6" y="75.6">X X X X X X X X</tspan><tspan x="26.6" y="88.2">X X X X X X X X</tspan></text><line class="u" x1="0" y1="94.5" x2="125" y2="94.5"/></g>
<g id="t2-E3b" class="n" transform="translate(686,1329)"><line class="vl" x1="21" y1="53" x2="21" y2="93"/><text><tspan x="0" y="0">1/8 Q X X X X X X X</tspan><tspan x="0" y="12.6">2/6 X X X Q X X X X</tspan><tspan x="0" y="25.2">1/4 X Q X X X X X X</tspan><tspan x="0" y="37.8">3/3 X X X X X X X Q</tspan><tspan x="0" y="50.4">2/2 X X X X X Q X X</tspan><tspan x="26.6" y="63">X X . X X X X X</tspan><tspan x="26.6" y="75.6">X X . X X X X X</tspan><tspan x="26.6" y="88.2">X X X X . X X X</tspan></text></g>
<g id="t2-E3b1" class="n" transform="translate(693.7,1445.5)"><text><tspan x="0" y="0">1/8 Q X X X X X X X</tspan><tspan x="0" y="12.6">2/6 X X X Q X X X X</tspan><tspan x="0" y="25.2">1/4 X Q X X X X X X</tspan><tspan x="0" y="37.8">3/3 X X X X X X X Q</tspan><tspan x="0" y="50.4">2/2 X X X X X Q X X</tspan><tspan x="0" y="63">1/1 X X Q X X X X X</tspan><tspan x="26.6" y="75.6">X X X X X X X X</tspan><tspan x="26.6" y="88.2">X X X X X X X X</tspan></text><line class="u" x1="0" y1="94.5" x2="125" y2="94.5"/></g>
<g id="t2-F" class="n" transform="translate(1038,1074.5)"><text><tspan x="0" y="0">1/8 Q X X X X X X X</tspan><tspan x="0" y="12.6">2/6 X X X Q X X X X</tspan><tspan x="0" y="25.2">2/4 X X X X X Q X X</tspan><tspan x="26.6" y="37.8">X X . X X X X .</tspan><tspan x="26.6" y="50.4">X . . X X X X X</tspan><tspan x="26.6" y="63">X . X X . X . X</tspan><tspan x="26.6" y="75.6">X X . X . X X .</tspan><tspan x="26.6" y="88.2">X . . X . X . X</tspan></text></g>
<g id="t2-F1" class="n" transform="translate(975.8,1201.5)"><text><tspan x="0" y="0">1/8 Q X X X X X X X</tspan><tspan x="0" y="12.6">2/6 X X X Q X X X X</tspan><tspan x="0" y="25.2">2/4 X X X X X Q X X</tspan><tspan x="0" y="37.8">1/2 X X Q X X X X X</tspan><tspan x="26.6" y="50.4">X X X X X X X X</tspan><tspan x="26.6" y="63">X . X X X X . X</tspan><tspan x="26.6" y="75.6">X X X X . X X .</tspan><tspan x="26.6" y="88.2">X . X X . X X X</tspan></text><line class="u" x1="0" y1="94.5" x2="125" y2="94.5"/></g>
<g id="t2-F2" class="n" transform="translate(1123.8,1203.5)"><text><tspan x="0" y="0">1/8 Q X X X X X X X</tspan><tspan x="0" y="12.6">2/6 X X X Q X X X X</tspan><tspan x="0" y="25.2">2/4 X X X X X Q X X</tspan><tspan x="0" y="37.8">2/2 X X X X X X X Q</tspan><tspan x="26.6" y="50.4">X . . X X X X X</tspan><tspan x="26.6" y="63">X . X X . X . X</tspan><tspan x="26.6" y="75.6">X X . X X X X X</tspan><tspan x="26.6" y="88.2">X . . X . X . X</tspan></text></g>
<g id="t2-F2a" class="n" transform="translate(980.4,1339.5)"><text><tspan x="0" y="0">1/8 Q X X X X X X X</tspan><tspan x="0" y="12.6">2/6 X X X Q X X X X</tspan><tspan x="0" y="25.2">2/4 X X X X X Q X X</tspan><tspan x="0" y="37.8">2/2 X X X X X X X Q</tspan><tspan x="0" y="50.4">1/2 X Q X X X X X X</tspan><tspan x="26.6" y="63">X X X X . X . X</tspan><tspan x="26.6" y="75.6">X X . X X X X X</tspan><tspan x="26.6" y="88.2">X X . X X X . X</tspan></text></g>
<g id="t2-F2a1" class="n" transform="translate(912.5,1450.5)"><line class="vl" x1="21" y1="65.6" x2="21" y2="93"/><text><tspan x="0" y="0">1/8 Q X X X X X X X</tspan><tspan x="0" y="12.6">2/6 X X X Q X X X X</tspan><tspan x="0" y="25.2">2/4 X X X X X Q X X</tspan><tspan x="0" y="37.8">2/2 X X X X X X X Q</tspan><tspan x="0" y="50.4">1/2 X Q X X X X X X</tspan><tspan x="0" y="63">1/2 X X X X Q X X X</tspan><tspan x="26.6" y="75.6">X X . X X X X X</tspan><tspan x="26.6" y="88.2">X X X X X X X X</tspan></text></g>
<g id="t2-F2a1a" class="n" transform="translate(917,1565.5)"><line class="vl" x1="21" y1="78.2" x2="21" y2="93"/><text><tspan x="0" y="0">1/8 Q X X X X X X X</tspan><tspan x="0" y="12.6">2/6 X X X Q X X X X</tspan><tspan x="0" y="25.2">2/4 X X X X X Q X X</tspan><tspan x="0" y="37.8">2/2 X X X X X X X Q</tspan><tspan x="0" y="50.4">1/2 X Q X X X X X X</tspan><tspan x="0" y="63">1/2 X X X X Q X X X</tspan><tspan x="0" y="75.6">1/1 X X Q X X X X X</tspan><tspan x="26.6" y="88.2">X X X X X X X X</tspan></text><line class="u" x1="0" y1="94.5" x2="125" y2="94.5"/></g>
<g id="t2-F2a2" class="n" transform="translate(1063,1451.5)"><text><tspan x="0" y="0">1/8 Q X X X X X X X</tspan><tspan x="0" y="12.6">2/6 X X X Q X X X X</tspan><tspan x="0" y="25.2">2/4 X X X X X Q X X</tspan><tspan x="0" y="37.8">2/2 X X X X X X X Q</tspan><tspan x="0" y="50.4">1/2 X Q X X X X X X</tspan><tspan x="0" y="63">2/2 X X X X X X Q X</tspan><tspan x="26.6" y="75.6">X X . X X X X X</tspan><tspan x="26.6" y="88.2">X X . X X X X X</tspan></text></g>
<g id="t2-F2a2a" class="n" transform="translate(1069,1571.5)"><text><tspan x="0" y="0">1/8 Q X X X X X X X</tspan><tspan x="0" y="12.6">2/6 X X X Q X X X X</tspan><tspan x="0" y="25.2">2/4 X X X X X Q X X</tspan><tspan x="0" y="37.8">2/2 X X X X X X X Q</tspan><tspan x="0" y="50.4">1/2 X Q X X X X X X</tspan><tspan x="0" y="63">2/2 X X X X X X Q X</tspan><tspan x="0" y="75.6">1/1 X X Q X X X X X</tspan><tspan x="26.6" y="88.2">X X X X X X X X</tspan></text><line class="u" x1="0" y1="94.5" x2="125" y2="94.5"/></g>
<g id="t2-F2b" class="n" transform="translate(1280,1339.5)"><text><tspan x="0" y="0">1/8 Q X X X X X X X</tspan><tspan x="0" y="12.6">2/6 X X X Q X X X X</tspan><tspan x="0" y="25.2">2/4 X X X X X Q X X</tspan><tspan x="0" y="37.8">2/2 X X X X X X X Q</tspan><tspan x="0" y="50.4">2/2 X X Q X X X X X</tspan><tspan x="26.6" y="63">X X X X . X . X</tspan><tspan x="26.6" y="75.6">X X X X X X X X</tspan><tspan x="26.6" y="88.2">X . X X . X . X</tspan></text></g>
<g id="t2-F2b1" class="n" transform="translate(1218,1452.5)"><text><tspan x="0" y="0">1/8 Q X X X X X X X</tspan><tspan x="0" y="12.6">2/6 X X X Q X X X X</tspan><tspan x="0" y="25.2">2/4 X X X X X Q X X</tspan><tspan x="0" y="37.8">2/2 X X X X X X X Q</tspan><tspan x="0" y="50.4">2/2 X X Q X X X X X</tspan><tspan x="0" y="63">1/2 X X X X Q X X X</tspan><tspan x="26.6" y="75.6">X X X X X X X X</tspan><tspan x="26.6" y="88.2">X . X X X X X X</tspan></text><line class="u" x1="0" y1="94.5" x2="125" y2="94.5"/></g>
<g id="t2-F2b2" class="n" transform="translate(1365,1452.5)"><line class="vl" x1="21" y1="65.6" x2="21" y2="93"/><text><tspan x="0" y="0">1/8 Q X X X X X X X</tspan><tspan x="0" y="12.6">2/6 X X X Q X X X X</tspan><tspan x="0" y="25.2">2/4 X X X X X Q X X</tspan><tspan x="0" y="37.8">2/2 X X X X X X X Q</tspan><tspan x="0" y="50.4">2/2 X X Q X X X X X</tspan><tspan x="0" y="63">2/2 X X X X X X Q X</tspan><tspan x="26.6" y="75.6">X X X X X X X X</tspan><tspan x="26.6" y="88.2">X . X X X X X X</tspan></text><line class="u" x1="0" y1="94.5" x2="125" y2="94.5"/></g>
<g id="t2-G" class="n" transform="translate(1865.5,1079)"><text><tspan x="0" y="0">1/8 Q X X X X X X X</tspan><tspan x="0" y="12.6">2/6 X X X Q X X X X</tspan><tspan x="0" y="25.2">3/4 X X X X X X Q X</tspan><tspan x="26.6" y="37.8">X X . X . X X X</tspan><tspan x="26.6" y="50.4">X . . X X . X .</tspan><tspan x="26.6" y="63">X . . X . X X X</tspan><tspan x="26.6" y="75.6">X . X X . . X .</tspan><tspan x="26.6" y="88.2">X X . X . . X X</tspan></text></g>
<g id="t2-G1" class="n" transform="translate(1654.6,1201.9)"><line class="vl" x1="21" y1="40.4" x2="21" y2="93"/><text><tspan x="0" y="0">1/8 Q X X X X X X X</tspan><tspan x="0" y="12.6">2/6 X X X Q X X X X</tspan><tspan x="0" y="25.2">3/4 X X X X X X Q X</tspan><tspan x="0" y="37.8">1/2 X X Q X X X X X</tspan><tspan x="26.6" y="50.4">X X X X X . X .</tspan><tspan x="26.6" y="63">X . X X X X X X</tspan><tspan x="26.6" y="75.6">X . X X . X X .</tspan><tspan x="26.6" y="88.2">X X X X . . X X</tspan></text></g>
<g id="t2-G1a" class="n" transform="translate(1583,1327.5)"><line class="vl" x1="21" y1="53" x2="21" y2="93"/><text><tspan x="0" y="0">1/8 Q X X X X X X X</tspan><tspan x="0" y="12.6">2/6 X X X Q X X X X</tspan><tspan x="0" y="25.2">3/4 X X X X X X Q X</tspan><tspan x="0" y="37.8">1/2 X X Q X X X X X</tspan><tspan x="0" y="50.4">1/2 X X X X X Q X X</tspan><tspan x="26.6" y="63">X . X X X X X X</tspan><tspan x="26.6" y="75.6">X . X X . X X X</tspan><tspan x="26.6" y="88.2">X X X X . X X X</tspan></text></g>
<g id="t2-G1a1" class="n" transform="translate(1584,1451.5)"><line class="vl" x1="21" y1="65.6" x2="21" y2="93"/><text><tspan x="0" y="0">1/8 Q X X X X X X X</tspan><tspan x="0" y="12.6">2/6 X X X Q X X X X</tspan><tspan x="0" y="25.2">3/4 X X X X X X Q X</tspan><tspan x="0" y="37.8">1/2 X X Q X X X X X</tspan><tspan x="0" y="50.4">1/2 X X X X X Q X X</tspan><tspan x="0" y="63">1/1 X Q X X X X X X</tspan><tspan x="26.6" y="75.6">X X X X . X X X</tspan><tspan x="26.6" y="88.2">X X X X . X X X</tspan></text></g>
<g id="t2-G1a1a" class="n" transform="translate(1588,1564.5)"><text><tspan x="0" y="0">1/8 Q X X X X X X X</tspan><tspan x="0" y="12.6">2/6 X X X Q X X X X</tspan><tspan x="0" y="25.2">3/4 X X X X X X Q X</tspan><tspan x="0" y="37.8">1/2 X X Q X X X X X</tspan><tspan x="0" y="50.4">1/2 X X X X X Q X X</tspan><tspan x="0" y="63">1/1 X Q X X X X X X</tspan><tspan x="0" y="75.6">1/1 X X X X Q X X X</tspan><tspan x="26.6" y="88.2">X X X X X X X X</tspan></text><line class="u" x1="0" y1="94.5" x2="125" y2="94.5"/></g>
<g id="t2-G1b" class="n" transform="translate(1739,1330.5)"><text><tspan x="0" y="0">1/8 Q X X X X X X X</tspan><tspan x="0" y="12.6">2/6 X X X Q X X X X</tspan><tspan x="0" y="25.2">3/4 X X X X X X Q X</tspan><tspan x="0" y="37.8">1/2 X X Q X X X X X</tspan><tspan x="0" y="50.4">2/2 X X X X X X X Q</tspan><tspan x="26.6" y="63">X . X X X X X X</tspan><tspan x="26.6" y="75.6">X . X X . X X X</tspan><tspan x="26.6" y="88.2">X X X X X . X X</tspan></text></g>
<g id="t2-G1b1" class="n" transform="translate(1743,1448.2)"><text><tspan x="0" y="0">1/8 Q X X X X X X X</tspan><tspan x="0" y="12.6">2/6 X X X Q X X X X</tspan><tspan x="0" y="25.2">3/4 X X X X X X Q X</tspan><tspan x="0" y="37.8">1/2 X X Q X X X X X</tspan><tspan x="0" y="50.4">2/2 X X X X X X X Q</tspan><tspan x="0" y="63">1/1 X Q X X X X X X</tspan><tspan x="26.6" y="75.6">X X X X . X X X</tspan><tspan x="26.6" y="88.2">X X X X X . X X</tspan></text></g>
<g id="t2-G1b1a" class="n" transform="translate(1746,1564.5)"><line class="vl" x1="21" y1="78.2" x2="21" y2="93"/><text><tspan x="0" y="0">1/8 Q X X X X X X X</tspan><tspan x="0" y="12.6">2/6 X X X Q X X X X</tspan><tspan x="0" y="25.2">3/4 X X X X X X Q X</tspan><tspan x="0" y="37.8">1/2 X X Q X X X X X</tspan><tspan x="0" y="50.4">2/2 X X X X X X X Q</tspan><tspan x="0" y="63">1/1 X Q X X X X X X</tspan><tspan x="0" y="75.6">1/1 X X X X Q X X X</tspan><tspan x="26.6" y="88.2">X X X X X X X X</tspan></text><line class="u" x1="0" y1="94.5" x2="125" y2="94.5"/></g>
<g id="t2-G2" class="n" transform="translate(2077.3,1201.9)"><line class="vl" x1="21" y1="40.4" x2="21" y2="93"/><text><tspan x="0" y="0">1/8 Q X X X X X X X</tspan><tspan x="0" y="12.6">2/6 X X X Q X X X X</tspan><tspan x="0" y="25.2">3/4 X X X X X X Q X</tspan><tspan x="0" y="37.8">2/2 X X X X Q X X X</tspan><tspan x="26.6" y="50.4">X . . X X X X .</tspan><tspan x="26.6" y="63">X . X X X X X X</tspan><tspan x="26.6" y="75.6">X X X X X . X X</tspan><tspan x="26.6" y="88.2">X X . X X . X X</tspan></text></g>
<g id="t2-G2a" class="n" transform="translate(1920,1327.9)"><line class="vl" x1="21" y1="53" x2="21" y2="93"/><text><tspan x="0" y="0">1/8 Q X X X X X X X</tspan><tspan x="0" y="12.6">2/6 X X X Q X X X X</tspan><tspan x="0" y="25.2">3/4 X X X X X X Q X</tspan><tspan x="0" y="37.8">2/2 X X X X Q X X X</tspan><tspan x="0" y="50.4">1/3 X Q X X X X X X</tspan><tspan x="26.6" y="63">X X X X X X X X</tspan><tspan x="26.6" y="75.6">X X X X X . X X</tspan><tspan x="26.6" y="88.2">X X . X X . X X</tspan></text><line class="u" x1="0" y1="94.5" x2="125" y2="94.5"/></g>
<g id="t2-G2b" class="n" transform="translate(2080,1327.9)"><line class="vl" x1="21" y1="53" x2="21" y2="93"/><text><tspan x="0" y="0">1/8 Q X X X X X X X</tspan><tspan x="0" y="12.6">2/6 X X X Q X X X X</tspan><tspan x="0" y="25.2">3/4 X X X X X X Q X</tspan><tspan x="0" y="37.8">2/2 X X X X Q X X X</tspan><tspan x="0" y="50.4">2/3 X X Q X X X X X</tspan><tspan x="26.6" y="63">X X X X X X X X</tspan><tspan x="26.6" y="75.6">X X X X X . X X</tspan><tspan x="26.6" y="88.2">X X X X X X X X</tspan></text><line class="u" x1="0" y1="94.5" x2="125" y2="94.5"/></g>
<g id="t2-G2c" class="n" transform="translate(2242,1327.5)"><text><tspan x="0" y="0">1/8 Q X X X X X X X</tspan><tspan x="0" y="12.6">2/6 X X X Q X X X X</tspan><tspan x="0" y="25.2">3/4 X X X X X X Q X</tspan><tspan x="0" y="37.8">2/2 X X X X Q X X X</tspan><tspan x="0" y="50.4">3/3 X X X X X X X Q</tspan><tspan x="26.6" y="63">X . X X X X X X</tspan><tspan x="26.6" y="75.6">X X X X X X X X</tspan><tspan x="26.6" y="88.2">X X . X X . X X</tspan></text></g>
<g id="t2-G2c1" class="n" transform="translate(2245,1440.5)"><line class="vl" x1="21" y1="65.6" x2="21" y2="93"/><text><tspan x="0" y="0">1/8 Q X X X X X X X</tspan><tspan x="0" y="12.6">2/6 X X X Q X X X X</tspan><tspan x="0" y="25.2">3/4 X X X X X X Q X</tspan><tspan x="0" y="37.8">2/2 X X X X Q X X X</tspan><tspan x="0" y="50.4">3/3 X X X X X X X Q</tspan><tspan x="0" y="63">1/1 X Q X X X X X X</tspan><tspan x="26.6" y="75.6">X X X X X X X X</tspan><tspan x="26.6" y="88.2">X X . X X . X X</tspan></text><line class="u" x1="0" y1="94.5" x2="125" y2="94.5"/></g>
<g id="t2-H" class="n" transform="translate(2534,1073.5)"><text><tspan x="0" y="0">1/8 Q X X X X X X X</tspan><tspan x="0" y="12.6">2/6 X X X Q X X X X</tspan><tspan x="0" y="25.2">4/4 X X X X X X X Q</tspan><tspan x="26.6" y="37.8">X X . X . X X X</tspan><tspan x="26.6" y="50.4">X . . X X X X X</tspan><tspan x="26.6" y="63">X . . X X X . X</tspan><tspan x="26.6" y="75.6">X . . X . . X X</tspan><tspan x="26.6" y="88.2">X . X X . . . X</tspan></text></g>
<g id="t2-H1" class="n" transform="translate(2461,1209.5)"><text><tspan x="0" y="0">1/8 Q X X X X X X X</tspan><tspan x="0" y="12.6">2/6 X X X Q X X X X</tspan><tspan x="0" y="25.2">4/4 X X X X X X X Q</tspan><tspan x="0" y="37.8">1/2 X X Q X X X X X</tspan><tspan x="26.6" y="50.4">X X X X X X X X</tspan><tspan x="26.6" y="63">X . X X X X . X</tspan><tspan x="26.6" y="75.6">X . X X . X X X</tspan><tspan x="26.6" y="88.2">X . X X . . X X</tspan></text><line class="u" x1="0" y1="94.5" x2="125" y2="94.5"/></g>
<g id="t2-H2" class="n" transform="translate(2633.6,1208.5)"><text><tspan x="0" y="0">1/8 Q X X X X X X X</tspan><tspan x="0" y="12.6">2/6 X X X Q X X X X</tspan><tspan x="0" y="25.2">4/4 X X X X X X X Q</tspan><tspan x="0" y="37.8">2/2 X X X X Q X X X</tspan><tspan x="26.6" y="50.4">X . . X X X X X</tspan><tspan x="26.6" y="63">X . X X X X X X</tspan><tspan x="26.6" y="75.6">X X . X X . X X</tspan><tspan x="26.6" y="88.2">X . X X X . . X</tspan></text></g>
<g id="t2-H2a" class="n" transform="translate(2569.6,1339.5)"><text><tspan x="0" y="0">1/8 Q X X X X X X X</tspan><tspan x="0" y="12.6">2/6 X X X Q X X X X</tspan><tspan x="0" y="25.2">4/4 X X X X X X X Q</tspan><tspan x="0" y="37.8">2/2 X X X X Q X X X</tspan><tspan x="0" y="50.4">1/2 X Q X X X X X X</tspan><tspan x="26.6" y="63">X X X X X X X X</tspan><tspan x="26.6" y="75.6">X X . X X . X X</tspan><tspan x="26.6" y="88.2">X X X X X . . X</tspan></text><line class="u" x1="0" y1="94.5" x2="125" y2="94.5"/></g>
<g id="t2-H2b" class="n" transform="translate(2725,1343.5)"><text><tspan x="0" y="0">1/8 Q X X X X X X X</tspan><tspan x="0" y="12.6">2/6 X X X Q X X X X</tspan><tspan x="0" y="25.2">4/4 X X X X X X X Q</tspan><tspan x="0" y="37.8">2/2 X X X X Q X X X</tspan><tspan x="0" y="50.4">2/2 X X Q X X X X X</tspan><tspan x="26.6" y="63">X X X X X X X X</tspan><tspan x="26.6" y="75.6">X X X X X . X X</tspan><tspan x="26.6" y="88.2">X . X X X X . X</tspan></text><line class="u" x1="0" y1="94.5" x2="125" y2="94.5"/></g>
<g id="t3-root" class="n" transform="translate(2091.7,1781.1)"><text><tspan x="0" y="0">1/8 Q X X X X X X X</tspan><tspan x="0" y="12.6">3/6 X X X X Q X X X</tspan><tspan x="26.6" y="25.2">X . X X X X . .</tspan><tspan x="26.6" y="37.8">X . X X X . X .</tspan><tspan x="26.6" y="50.4">X X . . X . . X</tspan><tspan x="26.6" y="63">X . . . X X . .</tspan><tspan x="26.6" y="75.6">X . . . X . X .</tspan><tspan x="26.6" y="88.2">X . . . X . . X</tspan></text></g>
<g id="t3-I" class="n" transform="translate(1597.2,1915.3)"><line class="vl" x1="21" y1="27.8" x2="21" y2="93"/><text><tspan x="0" y="0">1/8 Q X X X X X X X</tspan><tspan x="0" y="12.6">3/6 X X X X Q X X X</tspan><tspan x="0" y="25.2">1/3 X Q X X X X X X</tspan><tspan x="26.6" y="37.8">X X X X X . X .</tspan><tspan x="26.6" y="50.4">X X . X X . . X</tspan><tspan x="26.6" y="63">X X . . X X . .</tspan><tspan x="26.6" y="75.6">X X . . X X X .</tspan><tspan x="26.6" y="88.2">X X . . X . X X</tspan></text></g>
<g id="t3-I1" class="n" transform="translate(1500.1,2038)"><text><tspan x="0" y="0">1/8 Q X X X X X X X</tspan><tspan x="0" y="12.6">3/6 X X X X Q X X X</tspan><tspan x="0" y="25.2">1/3 X Q X X X X X X</tspan><tspan x="0" y="37.8">1/2 X X X X X Q X X</tspan><tspan x="26.6" y="50.4">X X . X X X X X</tspan><tspan x="26.6" y="63">X X . X X X . X</tspan><tspan x="26.6" y="75.6">X X X . X X X .</tspan><tspan x="26.6" y="88.2">X X . . X X X X</tspan></text></g>
<g id="t3-I1a" class="n" transform="translate(1502.9,2150.3)"><text><tspan x="0" y="0">1/8 Q X X X X X X X</tspan><tspan x="0" y="12.6">3/6 X X X X Q X X X</tspan><tspan x="0" y="25.2">1/3 X Q X X X X X X</tspan><tspan x="0" y="37.8">1/2 X X X X X Q X X</tspan><tspan x="0" y="50.4">1/1 X X Q X X X X X</tspan><tspan x="26.6" y="63">X X X X X X . X</tspan><tspan x="26.6" y="75.6">X X X . X X X .</tspan><tspan x="26.6" y="88.2">X X X . X X X X</tspan></text></g>
<g id="t3-I1a1" class="n" transform="translate(1505.6,2263.8)"><line class="vl" x1="21" y1="65.6" x2="21" y2="93"/><text><tspan x="0" y="0">1/8 Q X X X X X X X</tspan><tspan x="0" y="12.6">3/6 X X X X Q X X X</tspan><tspan x="0" y="25.2">1/3 X Q X X X X X X</tspan><tspan x="0" y="37.8">1/2 X X X X X Q X X</tspan><tspan x="0" y="50.4">1/1 X X Q X X X X X</tspan><tspan x="0" y="63">1/1 X X X X X X Q X</tspan><tspan x="26.6" y="75.6">X X X . X X X X</tspan><tspan x="26.6" y="88.2">X X X . X X X X</tspan></text></g>
<g id="t3-I1a1a" class="n" transform="translate(1505.6,2376.8)"><line class="vl" x1="21" y1="78.2" x2="21" y2="93"/><text><tspan x="0" y="0">1/8 Q X X X X X X X</tspan><tspan x="0" y="12.6">3/6 X X X X Q X X X</tspan><tspan x="0" y="25.2">1/3 X Q X X X X X X</tspan><tspan x="0" y="37.8">1/2 X X X X X Q X X</tspan><tspan x="0" y="50.4">1/1 X X Q X X X X X</tspan><tspan x="0" y="63">1/1 X X X X X X Q X</tspan><tspan x="0" y="75.6">1/1 X X X Q X X X X</tspan><tspan x="26.6" y="88.2">X X X X X X X X</tspan></text><line class="u" x1="0" y1="94.5" x2="125" y2="94.5"/></g>
<g id="t3-I2" class="n" transform="translate(1727.3,2039.8)"><text><tspan x="0" y="0">1/8 Q X X X X X X X</tspan><tspan x="0" y="12.6">3/6 X X X X Q X X X</tspan><tspan x="0" y="25.2">1/3 X Q X X X X X X</tspan><tspan x="0" y="37.8">2/2 X X X X X X X Q</tspan><tspan x="26.6" y="50.4">X X . X X . X X</tspan><tspan x="26.6" y="63">X X . . X X . X</tspan><tspan x="26.6" y="75.6">X X . . X X X X</tspan><tspan x="26.6" y="88.2">X X . X X . X X</tspan></text></g>
<g id="t3-I2a" class="n" transform="translate(1675,2156.4)"><text><tspan x="0" y="0">1/8 Q X X X X X X X</tspan><tspan x="0" y="12.6">3/6 X X X X Q X X X</tspan><tspan x="0" y="25.2">1/3 X Q X X X X X X</tspan><tspan x="0" y="37.8">2/2 X X X X X X X Q</tspan><tspan x="0" y="50.4">1/2 X X Q X X X X X</tspan><tspan x="26.6" y="63">X X X X X X . X</tspan><tspan x="26.6" y="75.6">X X X . X X X X</tspan><tspan x="26.6" y="88.2">X X X X X X X X</tspan></text></g>
<g id="t3-I2a1" class="n" transform="translate(1675,2270.5)"><line class="vl" x1="21" y1="65.6" x2="21" y2="93"/><text><tspan x="0" y="0">1/8 Q X X X X X X X</tspan><tspan x="0" y="12.6">3/6 X X X X Q X X X</tspan><tspan x="0" y="25.2">1/3 X Q X X X X X X</tspan><tspan x="0" y="37.8">2/2 X X X X X X X Q</tspan><tspan x="0" y="50.4">1/2 X X Q X X X X X</tspan><tspan x="0" y="63">1/1 X X X X X X Q X</tspan><tspan x="26.6" y="75.6">X X X . X X X X</tspan><tspan x="26.6" y="88.2">X X X X X X X X</tspan></text></g>
<g id="t3-I2a1a" class="n" transform="translate(1675,2381)"><text><tspan x="0" y="0">1/8 Q X X X X X X X</tspan><tspan x="0" y="12.6">3/6 X X X X Q X X X</tspan><tspan x="0" y="25.2">1/3 X Q X X X X X X</tspan><tspan x="0" y="37.8">2/2 X X X X X X X Q</tspan><tspan x="0" y="50.4">1/2 X X Q X X X X X</tspan><tspan x="0" y="63">1/1 X X X X X X Q X</tspan><tspan x="0" y="75.6">1/1 X X X Q X X X X</tspan><tspan x="26.6" y="88.2">X X X X X X X X</tspan></text><line class="u" x1="-6" y1="94.5" x2="136" y2="94.5"/></g>
<g id="t3-I2b" class="n" transform="translate(1820.7,2156.4)"><text><tspan x="0" y="0">1/8 Q X X X X X X X</tspan><tspan x="0" y="12.6">3/6 X X X X Q X X X</tspan><tspan x="0" y="25.2">1/3 X Q X X X X X X</tspan><tspan x="0" y="37.8">2/2 X X X X X X X Q</tspan><tspan x="0" y="50.4">2/2 X X X X X Q X X</tspan><tspan x="26.6" y="63">X X . . X X X X</tspan><tspan x="26.6" y="75.6">X X . X X X X X</tspan><tspan x="26.6" y="88.2">X X X X X X X X</tspan></text></g>
<g id="t3-I2b1" class="n" transform="translate(1820.7,2269.9)"><line class="vl" x1="21" y1="65.6" x2="21" y2="93"/><text><tspan x="0" y="0">1/8 Q X X X X X X X</tspan><tspan x="0" y="12.6">3/6 X X X X Q X X X</tspan><tspan x="0" y="25.2">1/3 X Q X X X X X X</tspan><tspan x="0" y="37.8">2/2 X X X X X X X Q</tspan><tspan x="0" y="50.4">2/2 X X X X X Q X X</tspan><tspan x="0" y="63">1/2 X X Q X X X X X</tspan><tspan x="26.6" y="75.6">X X X X X X X X</tspan><tspan x="26.6" y="88.2">X X X X X X X X</tspan></text><line class="u" x1="0" y1="94.5" x2="125" y2="94.5"/></g>
<g id="t3-J" class="n" transform="translate(2095.4,1911.7)"><text><tspan x="0" y="0">1/8 Q X X X X X X X</tspan><tspan x="0" y="12.6">3/6 X X X X Q X X X</tspan><tspan x="0" y="25.2">2/3 X X X X X X Q X</tspan><tspan x="26.6" y="37.8">X . X X X X X X</tspan><tspan x="26.6" y="50.4">X X . . X . X X</tspan><tspan x="26.6" y="63">X . . X X X X .</tspan><tspan x="26.6" y="75.6">X . X . X . X .</tspan><tspan x="26.6" y="88.2">X X . . X . X X</tspan></text></g>
<g id="t3-J1" class="n" transform="translate(2100.9,2047.1)"><text><tspan x="0" y="0">1/8 Q X X X X X X X</tspan><tspan x="0" y="12.6">3/6 X X X X Q X X X</tspan><tspan x="0" y="25.2">2/3 X X X X X X Q X</tspan><tspan x="0" y="37.8">1/1 X Q X X X X X X</tspan><tspan x="26.6" y="50.4">X X X . X . X X</tspan><tspan x="26.6" y="63">X X . X X X X .</tspan><tspan x="26.6" y="75.6">X X X . X . X .</tspan><tspan x="26.6" y="88.2">X X . . X X X X</tspan></text></g>
<g id="t3-J1a" class="n" transform="translate(2027.6,2162.5)"><text><tspan x="0" y="0">1/8 Q X X X X X X X</tspan><tspan x="0" y="12.6">3/6 X X X X Q X X X</tspan><tspan x="0" y="25.2">2/3 X X X X X X Q X</tspan><tspan x="0" y="37.8">1/1 X Q X X X X X X</tspan><tspan x="0" y="50.4">1/2 X X X Q X X X X</tspan><tspan x="26.6" y="63">X X X X X X X .</tspan><tspan x="26.6" y="75.6">X X X X X X X .</tspan><tspan x="26.6" y="88.2">X X . X X X X X</tspan></text></g>
<g id="t3-J1a1" class="n" transform="translate(2027.6,2276)"><text><tspan x="0" y="0">1/8 Q X X X X X X X</tspan><tspan x="0" y="12.6">3/6 X X X X Q X X X</tspan><tspan x="0" y="25.2">2/3 X X X X X X Q X</tspan><tspan x="0" y="37.8">1/1 X Q X X X X X X</tspan><tspan x="0" y="50.4">1/2 X X X Q X X X X</tspan><tspan x="0" y="63">1/1 X X X X X X X Q</tspan><tspan x="26.6" y="75.6">X X X X X X X X</tspan><tspan x="26.6" y="88.2">X X . X X X X X</tspan></text><line class="u" x1="-3" y1="94.5" x2="128" y2="94.5"/></g>
<g id="t3-J1b" class="n" transform="translate(2178.7,2163.7)"><text><tspan x="0" y="0">1/8 Q X X X X X X X</tspan><tspan x="0" y="12.6">3/6 X X X X Q X X X</tspan><tspan x="0" y="25.2">2/3 X X X X X X Q X</tspan><tspan x="0" y="37.8">1/1 X Q X X X X X X</tspan><tspan x="0" y="50.4">2/2 X X X X X Q X X</tspan><tspan x="26.6" y="63">X X . X X X X .</tspan><tspan x="26.6" y="75.6">X X X X X X X X</tspan><tspan x="26.6" y="88.2">X X X . X X X X</tspan></text></g>
<g id="t3-J1b1" class="n" transform="translate(2178.7,2277.8)"><text><tspan x="0" y="0">1/8 Q X X X X X X X</tspan><tspan x="0" y="12.6">3/6 X X X X Q X X X</tspan><tspan x="0" y="25.2">2/3 X X X X X X Q X</tspan><tspan x="0" y="37.8">1/1 X Q X X X X X X</tspan><tspan x="0" y="50.4">2/2 X X X X X Q X X</tspan><tspan x="0" y="63">1/2 X X Q X X X X X</tspan><tspan x="26.6" y="75.6">X X X X X X X X</tspan><tspan x="26.6" y="88.2">X X X . X X X X</tspan></text><line class="u" x1="-3" y1="94.5" x2="130" y2="94.5"/></g>
<g id="t3-K" class="n" transform="translate(2560.6,1915.3)"><text><tspan x="0" y="0">1/8 Q X X X X X X X</tspan><tspan x="0" y="12.6">3/6 X X X X Q X X X</tspan><tspan x="0" y="25.2">3/3 X X X X X X X Q</tspan><tspan x="26.6" y="37.8">X . X X X . X X</tspan><tspan x="26.6" y="50.4">X X . . X X . X</tspan><tspan x="26.6" y="63">X . . . X X . X</tspan><tspan x="26.6" y="75.6">X . . X X . X X</tspan><tspan x="26.6" y="88.2">X . X . X . . X</tspan></text></g>
<g id="t3-K1" class="n" transform="translate(2448.9,2048.9)"><line class="vl" x1="21" y1="40.4" x2="21" y2="93"/><text><tspan x="0" y="0">1/8 Q X X X X X X X</tspan><tspan x="0" y="12.6">3/6 X X X X Q X X X</tspan><tspan x="0" y="25.2">3/3 X X X X X X X Q</tspan><tspan x="0" y="37.8">1/2 X Q X X X X X X</tspan><tspan x="26.6" y="50.4">X X X . X X . X</tspan><tspan x="26.6" y="63">X X . X X X . X</tspan><tspan x="26.6" y="75.6">X X . X X . X X</tspan><tspan x="26.6" y="88.2">X X X . X X . X</tspan></text></g>
<g id="t3-K1a" class="n" transform="translate(2377.4,2166.7)"><text><tspan x="0" y="0">1/8 Q X X X X X X X</tspan><tspan x="0" y="12.6">3/6 X X X X Q X X X</tspan><tspan x="0" y="25.2">3/3 X X X X X X X Q</tspan><tspan x="0" y="37.8">1/2 X Q X X X X X X</tspan><tspan x="0" y="50.4">1/2 X X X Q X X X X</tspan><tspan x="26.6" y="63">X X X X X X . X</tspan><tspan x="26.6" y="75.6">X X . X X X X X</tspan><tspan x="26.6" y="88.2">X X X X X X X X</tspan></text></g>
<g id="t3-K1a1" class="n" transform="translate(2377.4,2279.6)"><text><tspan x="0" y="0">1/8 Q X X X X X X X</tspan><tspan x="0" y="12.6">3/6 X X X X Q X X X</tspan><tspan x="0" y="25.2">3/3 X X X X X X X Q</tspan><tspan x="0" y="37.8">1/2 X Q X X X X X X</tspan><tspan x="0" y="50.4">1/2 X X X Q X X X X</tspan><tspan x="0" y="63">1/1 X X X X X X Q X</tspan><tspan x="26.6" y="75.6">X X . X X X X X</tspan><tspan x="26.6" y="88.2">X X X X X X X X</tspan></text></g>
<g id="t3-K1a1a" class="n" transform="translate(2380.2,2393.2)"><text><tspan x="0" y="0">1/8 Q X X X X X X X</tspan><tspan x="0" y="12.6">3/6 X X X X Q X X X</tspan><tspan x="0" y="25.2">3/3 X X X X X X X Q</tspan><tspan x="0" y="37.8">1/2 X Q X X X X X X</tspan><tspan x="0" y="50.4">1/2 X X X Q X X X X</tspan><tspan x="0" y="63">1/1 X X X X X X Q X</tspan><tspan x="0" y="75.6">1/1 X X Q X X X X X</tspan><tspan x="26.6" y="88.2">X X X X X X X X</tspan></text><line class="u" x1="-3" y1="94.5" x2="133" y2="94.5"/></g>
<g id="t3-K1b" class="n" transform="translate(2533.1,2171.5)"><text><tspan x="0" y="0">1/8 Q X X X X X X X</tspan><tspan x="0" y="12.6">3/6 X X X X Q X X X</tspan><tspan x="0" y="25.2">3/3 X X X X X X X Q</tspan><tspan x="0" y="37.8">1/2 X Q X X X X X X</tspan><tspan x="0" y="50.4">2/2 X X X X X X Q X</tspan><tspan x="26.6" y="63">X X . X X X X X</tspan><tspan x="26.6" y="75.6">X X . X X . X X</tspan><tspan x="26.6" y="88.2">X X X X X X X X</tspan></text></g>
<g id="t3-K1b1" class="n" transform="translate(2533.1,2285.7)"><text><tspan x="0" y="0">1/8 Q X X X X X X X</tspan><tspan x="0" y="12.6">3/6 X X X X Q X X X</tspan><tspan x="0" y="25.2">3/3 X X X X X X X Q</tspan><tspan x="0" y="37.8">1/2 X Q X X X X X X</tspan><tspan x="0" y="50.4">2/2 X X X X X X Q X</tspan><tspan x="0" y="63">1/1 X X Q X X X X X</tspan><tspan x="26.6" y="75.6">X X X X X . X X</tspan><tspan x="26.6" y="88.2">X X X X X X X X</tspan></text></g>
<g id="t3-K1b1a" class="n" transform="translate(2533.1,2401.1)"><text><tspan x="0" y="0">1/8 Q X X X X X X X</tspan><tspan x="0" y="12.6">3/6 X X X X Q X X X</tspan><tspan x="0" y="25.2">3/3 X X X X X X X Q</tspan><tspan x="0" y="37.8">1/2 X Q X X X X X X</tspan><tspan x="0" y="50.4">2/2 X X X X X X Q X</tspan><tspan x="0" y="63">1/1 X X Q X X X X X</tspan><tspan x="0" y="75.6">1/1 X X X X X Q X X</tspan><tspan x="26.6" y="88.2">X X X X X X X X</tspan></text><line class="u" x1="0" y1="94.5" x2="134" y2="94.5"/></g>
<g id="t3-K2" class="n" transform="translate(2693.4,2054.4)"><text><tspan x="0" y="0">1/8 Q X X X X X X X</tspan><tspan x="0" y="12.6">3/6 X X X X Q X X X</tspan><tspan x="0" y="25.2">3/3 X X X X X X X Q</tspan><tspan x="0" y="37.8">2/2 X X X X X Q X X</tspan><tspan x="26.6" y="50.4">X X . . X X X X</tspan><tspan x="26.6" y="63">X . . X X X . X</tspan><tspan x="26.6" y="75.6">X . X X X X X X</tspan><tspan x="26.6" y="88.2">X X X . X X . X</tspan></text></g>
<g id="t3-K2a" class="n" transform="translate(2693.4,2176.4)"><text><tspan x="0" y="0">1/8 Q X X X X X X X</tspan><tspan x="0" y="12.6">3/6 X X X X Q X X X</tspan><tspan x="0" y="25.2">3/3 X X X X X X X Q</tspan><tspan x="0" y="37.8">2/2 X X X X X Q X X</tspan><tspan x="0" y="50.4">1/2 X X Q X X X X X</tspan><tspan x="26.6" y="63">X X X X X X . X</tspan><tspan x="26.6" y="75.6">X . X X X X X X</tspan><tspan x="26.6" y="88.2">X X X . X X . X</tspan></text></g>
<g id="t3-K2a1" class="n" transform="translate(2698,2296)"><text><tspan x="0" y="0">1/8 Q X X X X X X X</tspan><tspan x="0" y="12.6">3/6 X X X X Q X X X</tspan><tspan x="0" y="25.2">3/3 X X X X X X X Q</tspan><tspan x="0" y="37.8">2/2 X X X X X Q X X</tspan><tspan x="0" y="50.4">1/2 X X Q X X X X X</tspan><tspan x="0" y="63">1/1 X X X X X X Q X</tspan><tspan x="26.6" y="75.6">X . X X X X X X</tspan><tspan x="26.6" y="88.2">X X X . X X X X</tspan></text></g>
<g id="t3-K2a1a" class="n" transform="translate(2702.5,2408.3)"><text><tspan x="0" y="0">1/8 Q X X X X X X X</tspan><tspan x="0" y="12.6">3/6 X X X X Q X X X</tspan><tspan x="0" y="25.2">3/3 X X X X X X X Q</tspan><tspan x="0" y="37.8">2/2 X X X X X Q X X</tspan><tspan x="0" y="50.4">1/2 X X Q X X X X X</tspan><tspan x="0" y="63">1/1 X X X X X X Q X</tspan><tspan x="0" y="75.6">1/1 X Q X X X X X X</tspan><tspan x="26.6" y="88.2">X X X . X X X X</tspan></text></g>
<g id="t3-solution" class="n" transform="translate(2705.3,2528.5)"><text><tspan x="0" y="0">1/8 Q X X X X X X X</tspan><tspan x="0" y="12.6">3/6 X X X X Q X X X</tspan><tspan x="0" y="25.2">3/3 X X X X X X X Q</tspan><tspan x="0" y="37.8">2/2 X X X X X Q X X</tspan><tspan x="0" y="50.4">1/2 X X Q X X X X X</tspan><tspan x="0" y="63">1/1 X X X X X X Q X</tspan><tspan x="0" y="75.6">1/1 X Q X X X X X X</tspan><tspan x="0" y="88.2">1/1 X X X Q X X X X</tspan></text><line x1="-3" y1="94.5" x2="133" y2="94.5" stroke="#d22630" stroke-width="1.2"/><ellipse cx="65.7" cy="52.5" rx="103" ry="74" fill="none" stroke="#c9282e" stroke-width="1.4"/></g>
</svg>
